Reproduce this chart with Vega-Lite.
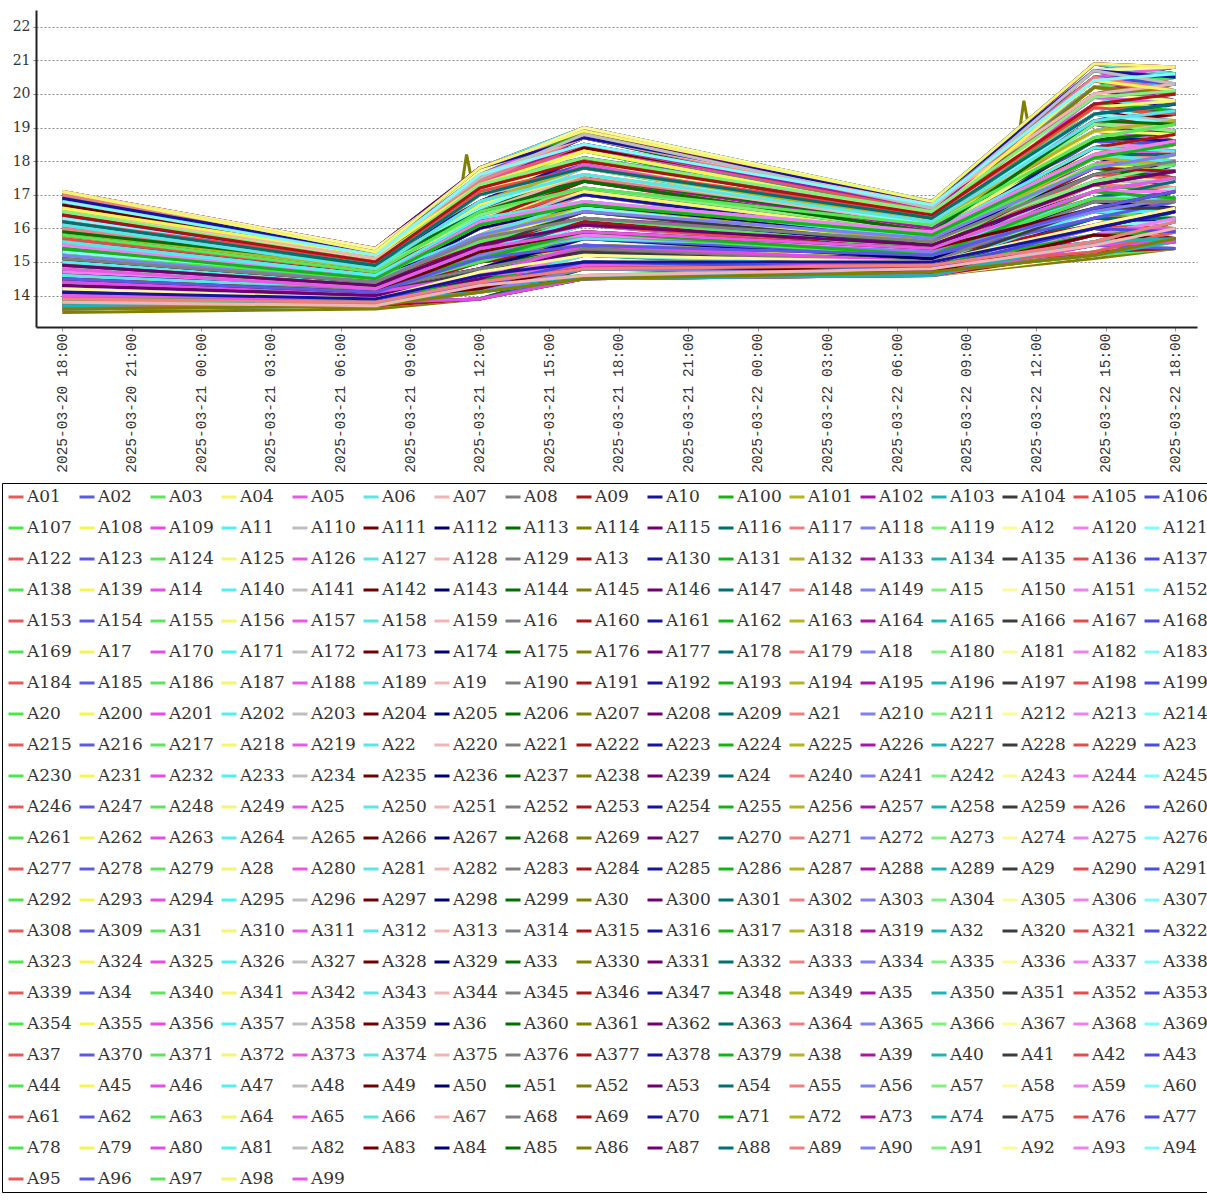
{"$schema":"https://vega.github.io/schema/vega-lite/v6.json","width":1161,"height":317,"padding":{"left":1,"top":10,"right":2,"bottom":2},"background":"white",
"datasets":{"times":[{"k":0,"t":1742493600000},{"k":1,"t":1742542200000},{"k":2,"t":1742558400000},{"k":3,"t":1742574600000},{"k":4,"t":1742628600000},{"k":5,"t":1742653800000},{"k":6,"t":1742666400000},{"k":7,"t":1742555400000},{"k":8,"t":1742556360000},{"k":9,"t":1742557320000},{"k":10,"t":1742641920000},{"k":11,"t":1742642880000},{"k":12,"t":1742643840000}]},
"data":{"values":[
{"s":"A01","k":0,"v":13.6},{"s":"A01","k":1,"v":13.7},{"s":"A01","k":2,"v":13.9},{"s":"A01","k":3,"v":14.5},{"s":"A01","k":4,"v":14.6},{"s":"A01","k":5,"v":15.2},{"s":"A01","k":6,"v":15.4},
{"s":"A02","k":0,"v":15.1},{"s":"A02","k":1,"v":14.3},{"s":"A02","k":2,"v":15.6},{"s":"A02","k":3,"v":16.2},{"s":"A02","k":4,"v":15.3},{"s":"A02","k":5,"v":17.6},{"s":"A02","k":6,"v":17.4},
{"s":"A03","k":0,"v":16.0},{"s":"A03","k":1,"v":15.0},{"s":"A03","k":2,"v":16.8},{"s":"A03","k":3,"v":18.1},{"s":"A03","k":4,"v":16.4},{"s":"A03","k":5,"v":19.1},{"s":"A03","k":6,"v":19.5},
{"s":"A04","k":0,"v":13.9},{"s":"A04","k":1,"v":13.9},{"s":"A04","k":2,"v":14.1},{"s":"A04","k":3,"v":14.8},{"s":"A04","k":4,"v":14.8},{"s":"A04","k":5,"v":15.8},{"s":"A04","k":6,"v":15.6},
{"s":"A05","k":0,"v":15.3},{"s":"A05","k":1,"v":14.4},{"s":"A05","k":2,"v":15.8},{"s":"A05","k":3,"v":16.8},{"s":"A05","k":4,"v":15.5},{"s":"A05","k":5,"v":17.6},{"s":"A05","k":6,"v":18.2},
{"s":"A06","k":0,"v":16.5},{"s":"A06","k":1,"v":15.1},{"s":"A06","k":2,"v":17.2},{"s":"A06","k":3,"v":18.3},{"s":"A06","k":4,"v":16.4},{"s":"A06","k":5,"v":19.9},{"s":"A06","k":6,"v":19.8},
{"s":"A07","k":0,"v":14.4},{"s":"A07","k":1,"v":13.9},{"s":"A07","k":2,"v":14.8},{"s":"A07","k":3,"v":15.3},{"s":"A07","k":4,"v":14.9},{"s":"A07","k":5,"v":16.5},{"s":"A07","k":6,"v":16.3},
{"s":"A08","k":0,"v":15.3},{"s":"A08","k":1,"v":14.7},{"s":"A08","k":2,"v":16.1},{"s":"A08","k":3,"v":17.2},{"s":"A08","k":4,"v":15.9},{"s":"A08","k":5,"v":17.9},{"s":"A08","k":6,"v":18.5},
{"s":"A09","k":0,"v":16.8},{"s":"A09","k":1,"v":15.3},{"s":"A09","k":2,"v":17.3},{"s":"A09","k":3,"v":18.5},{"s":"A09","k":4,"v":16.6},{"s":"A09","k":5,"v":20.5},{"s":"A09","k":6,"v":20.0},
{"s":"A10","k":0,"v":14.6},{"s":"A10","k":1,"v":14.0},{"s":"A10","k":2,"v":15.1},{"s":"A10","k":3,"v":15.9},{"s":"A10","k":4,"v":15.1},{"s":"A10","k":5,"v":16.5},{"s":"A10","k":6,"v":17.1},
{"s":"A11","k":0,"v":15.8},{"s":"A11","k":1,"v":14.7},{"s":"A11","k":2,"v":16.4},{"s":"A11","k":3,"v":17.4},{"s":"A11","k":4,"v":16.0},{"s":"A11","k":5,"v":18.7},{"s":"A11","k":6,"v":18.8},
{"s":"A12","k":0,"v":17.1},{"s":"A12","k":1,"v":15.3},{"s":"A12","k":2,"v":17.8},{"s":"A12","k":3,"v":19.0},{"s":"A12","k":4,"v":16.7},{"s":"A12","k":5,"v":20.9},{"s":"A12","k":6,"v":20.8},
{"s":"A13","k":0,"v":14.6},{"s":"A13","k":1,"v":14.4},{"s":"A13","k":2,"v":15.3},{"s":"A13","k":3,"v":16.3},{"s":"A13","k":4,"v":15.5},{"s":"A13","k":5,"v":16.8},{"s":"A13","k":6,"v":17.4},
{"s":"A14","k":0,"v":16.1},{"s":"A14","k":1,"v":14.9},{"s":"A14","k":2,"v":16.5},{"s":"A14","k":3,"v":17.6},{"s":"A14","k":4,"v":16.2},{"s":"A14","k":5,"v":19.4},{"s":"A14","k":6,"v":18.9},
{"s":"A15","k":0,"v":13.9},{"s":"A15","k":1,"v":13.7},{"s":"A15","k":2,"v":14.3},{"s":"A15","k":3,"v":15.0},{"s":"A15","k":4,"v":14.7},{"s":"A15","k":5,"v":15.3},{"s":"A15","k":6,"v":16.0},
{"s":"A16","k":0,"v":15.1},{"s":"A16","k":1,"v":14.4},{"s":"A16","k":2,"v":15.6},{"s":"A16","k":3,"v":16.5},{"s":"A16","k":4,"v":15.5},{"s":"A16","k":5,"v":17.6},{"s":"A16","k":6,"v":17.7},
{"s":"A17","k":0,"v":16.6},{"s":"A17","k":1,"v":15.0},{"s":"A17","k":2,"v":17.3},{"s":"A17","k":3,"v":18.1},{"s":"A17","k":4,"v":16.2},{"s":"A17","k":5,"v":20.0},{"s":"A17","k":6,"v":19.7},
{"s":"A18","k":0,"v":13.9},{"s":"A18","k":1,"v":14.0},{"s":"A18","k":2,"v":14.5},{"s":"A18","k":3,"v":15.4},{"s":"A18","k":4,"v":15.0},{"s":"A18","k":5,"v":15.6},{"s":"A18","k":6,"v":16.3},
{"s":"A19","k":0,"v":15.4},{"s":"A19","k":1,"v":14.6},{"s":"A19","k":2,"v":15.7},{"s":"A19","k":3,"v":16.7},{"s":"A19","k":4,"v":15.7},{"s":"A19","k":5,"v":18.2},{"s":"A19","k":6,"v":17.9},
{"s":"A20","k":0,"v":16.8},{"s":"A20","k":1,"v":15.1},{"s":"A20","k":2,"v":17.5},{"s":"A20","k":3,"v":18.8},{"s":"A20","k":4,"v":16.5},{"s":"A20","k":5,"v":20.0},{"s":"A20","k":6,"v":20.5},
{"s":"A21","k":0,"v":14.4},{"s":"A21","k":1,"v":14.1},{"s":"A21","k":2,"v":14.8},{"s":"A21","k":3,"v":15.5},{"s":"A21","k":4,"v":15.1},{"s":"A21","k":5,"v":16.5},{"s":"A21","k":6,"v":16.6},
{"s":"A22","k":0,"v":15.9},{"s":"A22","k":1,"v":14.6},{"s":"A22","k":2,"v":16.5},{"s":"A22","k":3,"v":17.2},{"s":"A22","k":4,"v":15.8},{"s":"A22","k":5,"v":18.9},{"s":"A22","k":6,"v":18.6},
{"s":"A23","k":0,"v":16.8},{"s":"A23","k":1,"v":15.4},{"s":"A23","k":2,"v":17.7},{"s":"A23","k":3,"v":19.0},{"s":"A23","k":4,"v":16.8},{"s":"A23","k":5,"v":20.4},{"s":"A23","k":6,"v":20.8},
{"s":"A24","k":0,"v":14.7},{"s":"A24","k":1,"v":14.3},{"s":"A24","k":2,"v":15.0},{"s":"A24","k":3,"v":15.8},{"s":"A24","k":4,"v":15.3},{"s":"A24","k":5,"v":17.1},{"s":"A24","k":6,"v":16.8},
{"s":"A25","k":0,"v":16.1},{"s":"A25","k":1,"v":14.7},{"s":"A25","k":2,"v":16.7},{"s":"A25","k":3,"v":17.9},{"s":"A25","k":4,"v":16.1},{"s":"A25","k":5,"v":18.9},{"s":"A25","k":6,"v":19.4},
{"s":"A26","k":0,"v":13.7},{"s":"A26","k":1,"v":13.7},{"s":"A26","k":2,"v":14.1},{"s":"A26","k":3,"v":14.6},{"s":"A26","k":4,"v":14.7},{"s":"A26","k":5,"v":15.3},{"s":"A26","k":6,"v":15.6},
{"s":"A27","k":0,"v":15.2},{"s":"A27","k":1,"v":14.3},{"s":"A27","k":2,"v":15.7},{"s":"A27","k":3,"v":16.3},{"s":"A27","k":4,"v":15.4},{"s":"A27","k":5,"v":17.8},{"s":"A27","k":6,"v":17.5},
{"s":"A28","k":0,"v":16.1},{"s":"A28","k":1,"v":15.1},{"s":"A28","k":2,"v":17.0},{"s":"A28","k":3,"v":18.3},{"s":"A28","k":4,"v":16.4},{"s":"A28","k":5,"v":19.2},{"s":"A28","k":6,"v":19.7},
{"s":"A29","k":0,"v":14.0},{"s":"A29","k":1,"v":13.9},{"s":"A29","k":2,"v":14.2},{"s":"A29","k":3,"v":14.9},{"s":"A29","k":4,"v":14.9},{"s":"A29","k":5,"v":16.0},{"s":"A29","k":6,"v":15.7},
{"s":"A30","k":0,"v":15.4},{"s":"A30","k":1,"v":14.4},{"s":"A30","k":2,"v":16.0},{"s":"A30","k":3,"v":17.0},{"s":"A30","k":4,"v":15.6},{"s":"A30","k":5,"v":17.8},{"s":"A30","k":6,"v":18.3},
{"s":"A31","k":0,"v":16.6},{"s":"A31","k":1,"v":15.1},{"s":"A31","k":2,"v":17.3},{"s":"A31","k":3,"v":18.4},{"s":"A31","k":4,"v":16.5},{"s":"A31","k":5,"v":20.0},{"s":"A31","k":6,"v":20.0},
{"s":"A32","k":0,"v":14.5},{"s":"A32","k":1,"v":14.0},{"s":"A32","k":2,"v":15.0},{"s":"A32","k":3,"v":15.4},{"s":"A32","k":4,"v":14.9},{"s":"A32","k":5,"v":16.6},{"s":"A32","k":6,"v":16.5},
{"s":"A33","k":0,"v":15.4},{"s":"A33","k":1,"v":14.7},{"s":"A33","k":2,"v":16.2},{"s":"A33","k":3,"v":17.4},{"s":"A33","k":4,"v":16.0},{"s":"A33","k":5,"v":18.1},{"s":"A33","k":6,"v":18.6},
{"s":"A34","k":0,"v":16.9},{"s":"A34","k":1,"v":15.3},{"s":"A34","k":2,"v":17.4},{"s":"A34","k":3,"v":18.7},{"s":"A34","k":4,"v":16.7},{"s":"A34","k":5,"v":20.7},{"s":"A34","k":6,"v":20.1},
{"s":"A35","k":0,"v":14.7},{"s":"A35","k":1,"v":14.1},{"s":"A35","k":2,"v":15.2},{"s":"A35","k":3,"v":16.1},{"s":"A35","k":4,"v":15.2},{"s":"A35","k":5,"v":16.6},{"s":"A35","k":6,"v":17.2},
{"s":"A36","k":0,"v":15.9},{"s":"A36","k":1,"v":14.8},{"s":"A36","k":2,"v":16.5},{"s":"A36","k":3,"v":17.5},{"s":"A36","k":4,"v":16.1},{"s":"A36","k":5,"v":18.9},{"s":"A36","k":6,"v":18.9},
{"s":"A37","k":0,"v":13.8},{"s":"A37","k":1,"v":13.7},{"s":"A37","k":2,"v":14.2},{"s":"A37","k":3,"v":14.5},{"s":"A37","k":4,"v":14.6},{"s":"A37","k":5,"v":15.5},{"s":"A37","k":6,"v":15.4},
{"s":"A38","k":0,"v":14.7},{"s":"A38","k":1,"v":14.4},{"s":"A38","k":2,"v":15.4},{"s":"A38","k":3,"v":16.5},{"s":"A38","k":4,"v":15.5},{"s":"A38","k":5,"v":16.9},{"s":"A38","k":6,"v":17.5},
{"s":"A39","k":0,"v":16.2},{"s":"A39","k":1,"v":15.0},{"s":"A39","k":2,"v":16.6},{"s":"A39","k":3,"v":17.8},{"s":"A39","k":4,"v":16.2},{"s":"A39","k":5,"v":19.6},{"s":"A39","k":6,"v":19.1},
{"s":"A40","k":0,"v":14.0},{"s":"A40","k":1,"v":13.7},{"s":"A40","k":2,"v":14.4},{"s":"A40","k":3,"v":15.2},{"s":"A40","k":4,"v":14.7},{"s":"A40","k":5,"v":15.5},{"s":"A40","k":6,"v":16.2},
{"s":"A41","k":0,"v":15.2},{"s":"A41","k":1,"v":14.5},{"s":"A41","k":2,"v":15.7},{"s":"A41","k":3,"v":16.6},{"s":"A41","k":4,"v":15.6},{"s":"A41","k":5,"v":17.8},{"s":"A41","k":6,"v":17.9},
{"s":"A42","k":0,"v":16.7},{"s":"A42","k":1,"v":15.0},{"s":"A42","k":2,"v":17.4},{"s":"A42","k":3,"v":18.3},{"s":"A42","k":4,"v":16.3},{"s":"A42","k":5,"v":20.2},{"s":"A42","k":6,"v":19.8},
{"s":"A43","k":0,"v":14.0},{"s":"A43","k":1,"v":14.1},{"s":"A43","k":2,"v":14.6},{"s":"A43","k":3,"v":15.5},{"s":"A43","k":4,"v":15.1},{"s":"A43","k":5,"v":15.8},{"s":"A43","k":6,"v":16.5},
{"s":"A44","k":0,"v":15.5},{"s":"A44","k":1,"v":14.6},{"s":"A44","k":2,"v":15.8},{"s":"A44","k":3,"v":16.8},{"s":"A44","k":4,"v":15.8},{"s":"A44","k":5,"v":18.4},{"s":"A44","k":6,"v":18.0},
{"s":"A45","k":0,"v":16.9},{"s":"A45","k":1,"v":15.1},{"s":"A45","k":2,"v":17.6},{"s":"A45","k":3,"v":18.9},{"s":"A45","k":4,"v":16.6},{"s":"A45","k":5,"v":20.2},{"s":"A45","k":6,"v":20.6},
{"s":"A46","k":0,"v":14.5},{"s":"A46","k":1,"v":14.1},{"s":"A46","k":2,"v":15.0},{"s":"A46","k":3,"v":15.7},{"s":"A46","k":4,"v":15.2},{"s":"A46","k":5,"v":16.6},{"s":"A46","k":6,"v":16.8},
{"s":"A47","k":0,"v":16.0},{"s":"A47","k":1,"v":14.7},{"s":"A47","k":2,"v":16.6},{"s":"A47","k":3,"v":17.4},{"s":"A47","k":4,"v":15.9},{"s":"A47","k":5,"v":19.1},{"s":"A47","k":6,"v":18.8},
{"s":"A48","k":0,"v":16.9},{"s":"A48","k":1,"v":15.4},{"s":"A48","k":2,"v":17.8},{"s":"A48","k":3,"v":19.0},{"s":"A48","k":4,"v":16.8},{"s":"A48","k":5,"v":20.5},{"s":"A48","k":6,"v":20.8},
{"s":"A49","k":0,"v":14.8},{"s":"A49","k":1,"v":14.3},{"s":"A49","k":2,"v":15.1},{"s":"A49","k":3,"v":15.9},{"s":"A49","k":4,"v":15.4},{"s":"A49","k":5,"v":17.3},{"s":"A49","k":6,"v":16.9},
{"s":"A50","k":0,"v":16.2},{"s":"A50","k":1,"v":14.8},{"s":"A50","k":2,"v":16.8},{"s":"A50","k":3,"v":18.0},{"s":"A50","k":4,"v":16.1},{"s":"A50","k":5,"v":19.1},{"s":"A50","k":6,"v":19.5},
{"s":"A51","k":0,"v":13.8},{"s":"A51","k":1,"v":13.8},{"s":"A51","k":2,"v":14.2},{"s":"A51","k":3,"v":14.8},{"s":"A51","k":4,"v":14.7},{"s":"A51","k":5,"v":15.5},{"s":"A51","k":6,"v":15.7},
{"s":"A52","k":0,"v":15.3},{"s":"A52","k":1,"v":14.4},{"s":"A52","k":2,"v":15.8},{"s":"A52","k":3,"v":16.5},{"s":"A52","k":4,"v":15.4},{"s":"A52","k":5,"v":17.9},{"s":"A52","k":6,"v":17.7},
{"s":"A53","k":0,"v":16.2},{"s":"A53","k":1,"v":15.1},{"s":"A53","k":2,"v":17.1},{"s":"A53","k":3,"v":18.4},{"s":"A53","k":4,"v":16.5},{"s":"A53","k":5,"v":19.4},{"s":"A53","k":6,"v":19.8},
{"s":"A54","k":0,"v":14.1},{"s":"A54","k":1,"v":14.0},{"s":"A54","k":2,"v":14.3},{"s":"A54","k":3,"v":15.0},{"s":"A54","k":4,"v":14.9},{"s":"A54","k":5,"v":16.1},{"s":"A54","k":6,"v":15.9},
{"s":"A55","k":0,"v":15.5},{"s":"A55","k":1,"v":14.5},{"s":"A55","k":2,"v":16.1},{"s":"A55","k":3,"v":17.1},{"s":"A55","k":4,"v":15.7},{"s":"A55","k":5,"v":17.9},{"s":"A55","k":6,"v":18.5},
{"s":"A56","k":0,"v":16.7},{"s":"A56","k":1,"v":15.2},{"s":"A56","k":2,"v":17.4},{"s":"A56","k":3,"v":18.5},{"s":"A56","k":4,"v":16.6},{"s":"A56","k":5,"v":20.2},{"s":"A56","k":6,"v":20.1},
{"s":"A57","k":0,"v":14.6},{"s":"A57","k":1,"v":14.0},{"s":"A57","k":2,"v":15.1},{"s":"A57","k":3,"v":15.5},{"s":"A57","k":4,"v":15.0},{"s":"A57","k":5,"v":16.8},{"s":"A57","k":6,"v":16.6},
{"s":"A58","k":0,"v":15.5},{"s":"A58","k":1,"v":14.8},{"s":"A58","k":2,"v":16.3},{"s":"A58","k":3,"v":17.5},{"s":"A58","k":4,"v":16.1},{"s":"A58","k":5,"v":18.2},{"s":"A58","k":6,"v":18.8},
{"s":"A59","k":0,"v":17.0},{"s":"A59","k":1,"v":15.4},{"s":"A59","k":2,"v":17.5},{"s":"A59","k":3,"v":18.8},{"s":"A59","k":4,"v":16.7},{"s":"A59","k":5,"v":20.9},{"s":"A59","k":6,"v":20.3},
{"s":"A60","k":0,"v":14.8},{"s":"A60","k":1,"v":14.1},{"s":"A60","k":2,"v":15.3},{"s":"A60","k":3,"v":16.2},{"s":"A60","k":4,"v":15.2},{"s":"A60","k":5,"v":16.8},{"s":"A60","k":6,"v":17.4},
{"s":"A61","k":0,"v":16.0},{"s":"A61","k":1,"v":14.8},{"s":"A61","k":2,"v":16.6},{"s":"A61","k":3,"v":17.6},{"s":"A61","k":4,"v":16.1},{"s":"A61","k":5,"v":19.1},{"s":"A61","k":6,"v":19.1},
{"s":"A62","k":0,"v":13.9},{"s":"A62","k":1,"v":13.7},{"s":"A62","k":2,"v":14.3},{"s":"A62","k":3,"v":14.6},{"s":"A62","k":4,"v":14.6},{"s":"A62","k":5,"v":15.6},{"s":"A62","k":6,"v":15.6},
{"s":"A63","k":0,"v":14.8},{"s":"A63","k":1,"v":14.5},{"s":"A63","k":2,"v":15.5},{"s":"A63","k":3,"v":16.6},{"s":"A63","k":4,"v":15.6},{"s":"A63","k":5,"v":17.1},{"s":"A63","k":6,"v":17.7},
{"s":"A64","k":0,"v":16.3},{"s":"A64","k":1,"v":15.0},{"s":"A64","k":2,"v":16.7},{"s":"A64","k":3,"v":17.9},{"s":"A64","k":4,"v":16.3},{"s":"A64","k":5,"v":19.7},{"s":"A64","k":6,"v":19.2},
{"s":"A65","k":0,"v":14.1},{"s":"A65","k":1,"v":13.8},{"s":"A65","k":2,"v":14.5},{"s":"A65","k":3,"v":15.3},{"s":"A65","k":4,"v":14.8},{"s":"A65","k":5,"v":15.6},{"s":"A65","k":6,"v":16.3},
{"s":"A66","k":0,"v":15.3},{"s":"A66","k":1,"v":14.5},{"s":"A66","k":2,"v":15.8},{"s":"A66","k":3,"v":16.7},{"s":"A66","k":4,"v":15.7},{"s":"A66","k":5,"v":17.9},{"s":"A66","k":6,"v":18.0},
{"s":"A67","k":0,"v":16.8},{"s":"A67","k":1,"v":15.1},{"s":"A67","k":2,"v":17.5},{"s":"A67","k":3,"v":18.4},{"s":"A67","k":4,"v":16.4},{"s":"A67","k":5,"v":20.4},{"s":"A67","k":6,"v":20.0},
{"s":"A68","k":0,"v":14.1},{"s":"A68","k":1,"v":14.1},{"s":"A68","k":2,"v":14.7},{"s":"A68","k":3,"v":15.7},{"s":"A68","k":4,"v":15.2},{"s":"A68","k":5,"v":16.0},{"s":"A68","k":6,"v":16.6},
{"s":"A69","k":0,"v":15.6},{"s":"A69","k":1,"v":14.7},{"s":"A69","k":2,"v":16.0},{"s":"A69","k":3,"v":17.0},{"s":"A69","k":4,"v":15.9},{"s":"A69","k":5,"v":18.6},{"s":"A69","k":6,"v":18.2},
{"s":"A70","k":0,"v":17.0},{"s":"A70","k":1,"v":15.2},{"s":"A70","k":2,"v":17.7},{"s":"A70","k":3,"v":19.0},{"s":"A70","k":4,"v":16.6},{"s":"A70","k":5,"v":20.4},{"s":"A70","k":6,"v":20.8},
{"s":"A71","k":0,"v":14.6},{"s":"A71","k":1,"v":14.2},{"s":"A71","k":2,"v":15.1},{"s":"A71","k":3,"v":15.8},{"s":"A71","k":4,"v":15.2},{"s":"A71","k":5,"v":16.8},{"s":"A71","k":6,"v":16.9},
{"s":"A72","k":0,"v":16.1},{"s":"A72","k":1,"v":14.7},{"s":"A72","k":2,"v":16.7},{"s":"A72","k":3,"v":17.5},{"s":"A72","k":4,"v":15.9},{"s":"A72","k":5,"v":19.2},{"s":"A72","k":6,"v":18.9},
{"s":"A73","k":0,"v":13.6},{"s":"A73","k":1,"v":13.8},{"s":"A73","k":2,"v":13.9},{"s":"A73","k":3,"v":14.8},{"s":"A73","k":4,"v":14.7},{"s":"A73","k":5,"v":15.2},{"s":"A73","k":6,"v":15.6},
{"s":"A74","k":0,"v":14.9},{"s":"A74","k":1,"v":14.4},{"s":"A74","k":2,"v":15.2},{"s":"A74","k":3,"v":16.1},{"s":"A74","k":4,"v":15.4},{"s":"A74","k":5,"v":17.4},{"s":"A74","k":6,"v":17.1},
{"s":"A75","k":0,"v":16.3},{"s":"A75","k":1,"v":14.8},{"s":"A75","k":2,"v":17.0},{"s":"A75","k":3,"v":18.1},{"s":"A75","k":4,"v":16.2},{"s":"A75","k":5,"v":19.2},{"s":"A75","k":6,"v":19.7},
{"s":"A76","k":0,"v":13.9},{"s":"A76","k":1,"v":13.8},{"s":"A76","k":2,"v":14.3},{"s":"A76","k":3,"v":14.9},{"s":"A76","k":4,"v":14.8},{"s":"A76","k":5,"v":15.6},{"s":"A76","k":6,"v":15.9},
{"s":"A77","k":0,"v":15.4},{"s":"A77","k":1,"v":14.4},{"s":"A77","k":2,"v":16.0},{"s":"A77","k":3,"v":16.6},{"s":"A77","k":4,"v":15.5},{"s":"A77","k":5,"v":18.1},{"s":"A77","k":6,"v":17.9},
{"s":"A78","k":0,"v":16.3},{"s":"A78","k":1,"v":15.2},{"s":"A78","k":2,"v":17.2},{"s":"A78","k":3,"v":18.5},{"s":"A78","k":4,"v":16.6},{"s":"A78","k":5,"v":19.6},{"s":"A78","k":6,"v":20.0},
{"s":"A79","k":0,"v":14.2},{"s":"A79","k":1,"v":14.0},{"s":"A79","k":2,"v":14.4},{"s":"A79","k":3,"v":15.2},{"s":"A79","k":4,"v":15.0},{"s":"A79","k":5,"v":16.3},{"s":"A79","k":6,"v":16.0},
{"s":"A80","k":0,"v":15.6},{"s":"A80","k":1,"v":14.5},{"s":"A80","k":2,"v":16.2},{"s":"A80","k":3,"v":17.2},{"s":"A80","k":4,"v":15.7},{"s":"A80","k":5,"v":18.1},{"s":"A80","k":6,"v":18.6},
{"s":"A81","k":0,"v":16.8},{"s":"A81","k":1,"v":15.2},{"s":"A81","k":2,"v":17.5},{"s":"A81","k":3,"v":18.7},{"s":"A81","k":4,"v":16.6},{"s":"A81","k":5,"v":20.4},{"s":"A81","k":6,"v":20.3},
{"s":"A82","k":0,"v":14.7},{"s":"A82","k":1,"v":14.1},{"s":"A82","k":2,"v":15.2},{"s":"A82","k":3,"v":15.7},{"s":"A82","k":4,"v":15.0},{"s":"A82","k":5,"v":16.9},{"s":"A82","k":6,"v":16.8},
{"s":"A83","k":0,"v":15.6},{"s":"A83","k":1,"v":14.8},{"s":"A83","k":2,"v":16.4},{"s":"A83","k":3,"v":17.6},{"s":"A83","k":4,"v":16.1},{"s":"A83","k":5,"v":18.4},{"s":"A83","k":6,"v":18.9},
{"s":"A84","k":0,"v":17.1},{"s":"A84","k":1,"v":15.4},{"s":"A84","k":2,"v":17.6},{"s":"A84","k":3,"v":18.9},{"s":"A84","k":4,"v":16.8},{"s":"A84","k":5,"v":20.9},{"s":"A84","k":6,"v":20.5},
{"s":"A85","k":0,"v":14.9},{"s":"A85","k":1,"v":14.2},{"s":"A85","k":2,"v":15.4},{"s":"A85","k":3,"v":16.3},{"s":"A85","k":4,"v":15.3},{"s":"A85","k":5,"v":16.9},{"s":"A85","k":6,"v":17.5},
{"s":"A86","k":0,"v":16.1},{"s":"A86","k":1,"v":14.9},{"s":"A86","k":2,"v":16.7},{"s":"A86","k":3,"v":17.8},{"s":"A86","k":4,"v":16.2},{"s":"A86","k":5,"v":19.2},{"s":"A86","k":6,"v":19.2},
{"s":"A87","k":0,"v":14.0},{"s":"A87","k":1,"v":13.7},{"s":"A87","k":2,"v":14.4},{"s":"A87","k":3,"v":14.8},{"s":"A87","k":4,"v":14.6},{"s":"A87","k":5,"v":15.8},{"s":"A87","k":6,"v":15.7},
{"s":"A88","k":0,"v":14.9},{"s":"A88","k":1,"v":14.5},{"s":"A88","k":2,"v":15.6},{"s":"A88","k":3,"v":16.7},{"s":"A88","k":4,"v":15.7},{"s":"A88","k":5,"v":17.3},{"s":"A88","k":6,"v":17.9},
{"s":"A89","k":0,"v":16.4},{"s":"A89","k":1,"v":15.1},{"s":"A89","k":2,"v":16.8},{"s":"A89","k":3,"v":18.0},{"s":"A89","k":4,"v":16.4},{"s":"A89","k":5,"v":19.9},{"s":"A89","k":6,"v":19.4},
{"s":"A90","k":0,"v":14.2},{"s":"A90","k":1,"v":13.8},{"s":"A90","k":2,"v":14.6},{"s":"A90","k":3,"v":15.4},{"s":"A90","k":4,"v":14.9},{"s":"A90","k":5,"v":15.8},{"s":"A90","k":6,"v":16.5},
{"s":"A91","k":0,"v":15.4},{"s":"A91","k":1,"v":14.5},{"s":"A91","k":2,"v":16.0},{"s":"A91","k":3,"v":16.8},{"s":"A91","k":4,"v":15.7},{"s":"A91","k":5,"v":18.1},{"s":"A91","k":6,"v":18.2},
{"s":"A92","k":0,"v":16.9},{"s":"A92","k":1,"v":15.1},{"s":"A92","k":2,"v":17.6},{"s":"A92","k":3,"v":18.5},{"s":"A92","k":4,"v":16.4},{"s":"A92","k":5,"v":20.5},{"s":"A92","k":6,"v":20.1},
{"s":"A93","k":0,"v":14.2},{"s":"A93","k":1,"v":14.2},{"s":"A93","k":2,"v":14.8},{"s":"A93","k":3,"v":15.8},{"s":"A93","k":4,"v":15.2},{"s":"A93","k":5,"v":16.1},{"s":"A93","k":6,"v":16.8},
{"s":"A94","k":0,"v":15.7},{"s":"A94","k":1,"v":14.7},{"s":"A94","k":2,"v":16.1},{"s":"A94","k":3,"v":17.1},{"s":"A94","k":4,"v":15.9},{"s":"A94","k":5,"v":18.7},{"s":"A94","k":6,"v":18.3},
{"s":"A95","k":0,"v":17.1},{"s":"A95","k":1,"v":15.2},{"s":"A95","k":2,"v":17.8},{"s":"A95","k":3,"v":19.0},{"s":"A95","k":4,"v":16.7},{"s":"A95","k":5,"v":20.5},{"s":"A95","k":6,"v":20.8},
{"s":"A96","k":0,"v":14.7},{"s":"A96","k":1,"v":14.2},{"s":"A96","k":2,"v":15.2},{"s":"A96","k":3,"v":15.9},{"s":"A96","k":4,"v":15.3},{"s":"A96","k":5,"v":16.9},{"s":"A96","k":6,"v":17.1},
{"s":"A97","k":0,"v":16.2},{"s":"A97","k":1,"v":14.8},{"s":"A97","k":2,"v":16.8},{"s":"A97","k":3,"v":17.6},{"s":"A97","k":4,"v":16.0},{"s":"A97","k":5,"v":19.4},{"s":"A97","k":6,"v":19.1},
{"s":"A98","k":0,"v":13.6},{"s":"A98","k":1,"v":13.8},{"s":"A98","k":2,"v":14.1},{"s":"A98","k":3,"v":14.9},{"s":"A98","k":4,"v":14.8},{"s":"A98","k":5,"v":15.2},{"s":"A98","k":6,"v":15.7},
{"s":"A99","k":0,"v":15.0},{"s":"A99","k":1,"v":14.4},{"s":"A99","k":2,"v":15.3},{"s":"A99","k":3,"v":16.2},{"s":"A99","k":4,"v":15.5},{"s":"A99","k":5,"v":17.6},{"s":"A99","k":6,"v":17.2},
{"s":"A100","k":0,"v":16.4},{"s":"A100","k":1,"v":14.9},{"s":"A100","k":2,"v":17.1},{"s":"A100","k":3,"v":18.3},{"s":"A100","k":4,"v":16.2},{"s":"A100","k":5,"v":19.4},{"s":"A100","k":6,"v":19.8},
{"s":"A101","k":0,"v":14.0},{"s":"A101","k":1,"v":13.9},{"s":"A101","k":2,"v":14.4},{"s":"A101","k":3,"v":15.0},{"s":"A101","k":4,"v":14.9},{"s":"A101","k":5,"v":15.8},{"s":"A101","k":6,"v":16.0},
{"s":"A102","k":0,"v":15.5},{"s":"A102","k":1,"v":14.5},{"s":"A102","k":2,"v":16.1},{"s":"A102","k":3,"v":16.7},{"s":"A102","k":4,"v":15.5},{"s":"A102","k":5,"v":18.2},{"s":"A102","k":6,"v":18.0},
{"s":"A103","k":0,"v":16.4},{"s":"A103","k":1,"v":15.2},{"s":"A103","k":2,"v":17.3},{"s":"A103","k":3,"v":18.7},{"s":"A103","k":4,"v":16.6},{"s":"A103","k":5,"v":19.7},{"s":"A103","k":6,"v":20.1},
{"s":"A104","k":0,"v":14.3},{"s":"A104","k":1,"v":14.1},{"s":"A104","k":2,"v":14.5},{"s":"A104","k":3,"v":15.3},{"s":"A104","k":4,"v":15.0},{"s":"A104","k":5,"v":16.5},{"s":"A104","k":6,"v":16.2},
{"s":"A105","k":0,"v":15.7},{"s":"A105","k":1,"v":14.5},{"s":"A105","k":2,"v":16.3},{"s":"A105","k":3,"v":17.4},{"s":"A105","k":4,"v":15.8},{"s":"A105","k":5,"v":18.2},{"s":"A105","k":6,"v":18.8},
{"s":"A106","k":0,"v":16.9},{"s":"A106","k":1,"v":15.3},{"s":"A106","k":2,"v":17.6},{"s":"A106","k":3,"v":18.8},{"s":"A106","k":4,"v":16.7},{"s":"A106","k":5,"v":20.5},{"s":"A106","k":6,"v":20.5},
{"s":"A107","k":0,"v":14.8},{"s":"A107","k":1,"v":14.1},{"s":"A107","k":2,"v":15.3},{"s":"A107","k":3,"v":15.8},{"s":"A107","k":4,"v":15.1},{"s":"A107","k":5,"v":17.1},{"s":"A107","k":6,"v":16.9},
{"s":"A108","k":0,"v":15.7},{"s":"A108","k":1,"v":14.9},{"s":"A108","k":2,"v":16.5},{"s":"A108","k":3,"v":17.8},{"s":"A108","k":4,"v":16.2},{"s":"A108","k":5,"v":18.6},{"s":"A108","k":6,"v":19.1},
{"s":"A109","k":0,"v":13.6},{"s":"A109","k":1,"v":13.7},{"s":"A109","k":2,"v":13.9},{"s":"A109","k":3,"v":14.5},{"s":"A109","k":4,"v":14.6},{"s":"A109","k":5,"v":15.3},{"s":"A109","k":6,"v":15.4},
{"s":"A110","k":0,"v":15.0},{"s":"A110","k":1,"v":14.2},{"s":"A110","k":2,"v":15.5},{"s":"A110","k":3,"v":16.5},{"s":"A110","k":4,"v":15.4},{"s":"A110","k":5,"v":17.1},{"s":"A110","k":6,"v":17.7},
{"s":"A111","k":0,"v":16.2},{"s":"A111","k":1,"v":14.9},{"s":"A111","k":2,"v":16.8},{"s":"A111","k":3,"v":17.9},{"s":"A111","k":4,"v":16.2},{"s":"A111","k":5,"v":19.4},{"s":"A111","k":6,"v":19.4},
{"s":"A112","k":0,"v":14.1},{"s":"A112","k":1,"v":13.8},{"s":"A112","k":2,"v":14.5},{"s":"A112","k":3,"v":14.9},{"s":"A112","k":4,"v":14.7},{"s":"A112","k":5,"v":16.0},{"s":"A112","k":6,"v":15.9},
{"s":"A113","k":0,"v":15.0},{"s":"A113","k":1,"v":14.5},{"s":"A113","k":2,"v":15.7},{"s":"A113","k":3,"v":16.8},{"s":"A113","k":4,"v":15.7},{"s":"A113","k":5,"v":17.4},{"s":"A113","k":6,"v":18.0},
{"s":"A114","k":0,"v":16.7},{"s":"A114","k":1,"v":15.2},{"s":"A114","k":7,"v":17.0},{"s":"A114","k":8,"v":18.2},{"s":"A114","k":9,"v":17.3},{"s":"A114","k":2,"v":17.4},{"s":"A114","k":3,"v":18.5},{"s":"A114","k":4,"v":16.6},{"s":"A114","k":10,"v":18.5},{"s":"A114","k":11,"v":19.8},{"s":"A114","k":12,"v":18.8},{"s":"A114","k":5,"v":20.2},{"s":"A114","k":6,"v":20.1},
{"s":"A115","k":0,"v":14.3},{"s":"A115","k":1,"v":13.9},{"s":"A115","k":2,"v":14.7},{"s":"A115","k":3,"v":15.5},{"s":"A115","k":4,"v":14.9},{"s":"A115","k":5,"v":16.0},{"s":"A115","k":6,"v":16.6},
{"s":"A116","k":0,"v":15.5},{"s":"A116","k":1,"v":14.6},{"s":"A116","k":2,"v":16.1},{"s":"A116","k":3,"v":17.0},{"s":"A116","k":4,"v":15.8},{"s":"A116","k":5,"v":18.2},{"s":"A116","k":6,"v":18.3},
{"s":"A117","k":0,"v":17.0},{"s":"A117","k":1,"v":15.2},{"s":"A117","k":2,"v":17.7},{"s":"A117","k":3,"v":18.7},{"s":"A117","k":4,"v":16.5},{"s":"A117","k":5,"v":20.7},{"s":"A117","k":6,"v":20.3},
{"s":"A118","k":0,"v":14.3},{"s":"A118","k":1,"v":14.2},{"s":"A118","k":2,"v":15.0},{"s":"A118","k":3,"v":15.9},{"s":"A118","k":4,"v":15.3},{"s":"A118","k":5,"v":16.3},{"s":"A118","k":6,"v":16.9},
{"s":"A119","k":0,"v":15.8},{"s":"A119","k":1,"v":14.8},{"s":"A119","k":2,"v":16.2},{"s":"A119","k":3,"v":17.2},{"s":"A119","k":4,"v":16.0},{"s":"A119","k":5,"v":18.9},{"s":"A119","k":6,"v":18.5},
{"s":"A120","k":0,"v":17.1},{"s":"A120","k":1,"v":15.3},{"s":"A120","k":2,"v":17.8},{"s":"A120","k":3,"v":19.0},{"s":"A120","k":4,"v":16.7},{"s":"A120","k":5,"v":20.7},{"s":"A120","k":6,"v":20.8},
{"s":"A121","k":0,"v":14.8},{"s":"A121","k":1,"v":14.3},{"s":"A121","k":2,"v":15.3},{"s":"A121","k":3,"v":16.1},{"s":"A121","k":4,"v":15.4},{"s":"A121","k":5,"v":17.1},{"s":"A121","k":6,"v":17.2},
{"s":"A122","k":0,"v":16.3},{"s":"A122","k":1,"v":14.8},{"s":"A122","k":2,"v":17.0},{"s":"A122","k":3,"v":17.8},{"s":"A122","k":4,"v":16.1},{"s":"A122","k":5,"v":19.6},{"s":"A122","k":6,"v":19.2},
{"s":"A123","k":0,"v":13.6},{"s":"A123","k":1,"v":13.9},{"s":"A123","k":2,"v":14.2},{"s":"A123","k":3,"v":15.0},{"s":"A123","k":4,"v":14.9},{"s":"A123","k":5,"v":15.2},{"s":"A123","k":6,"v":15.9},
{"s":"A124","k":0,"v":15.1},{"s":"A124","k":1,"v":14.5},{"s":"A124","k":2,"v":15.4},{"s":"A124","k":3,"v":16.3},{"s":"A124","k":4,"v":15.5},{"s":"A124","k":5,"v":17.8},{"s":"A124","k":6,"v":17.4},
{"s":"A125","k":0,"v":16.5},{"s":"A125","k":1,"v":14.9},{"s":"A125","k":2,"v":17.2},{"s":"A125","k":3,"v":18.4},{"s":"A125","k":4,"v":16.3},{"s":"A125","k":5,"v":19.6},{"s":"A125","k":6,"v":20.0},
{"s":"A126","k":0,"v":14.1},{"s":"A126","k":1,"v":13.9},{"s":"A126","k":2,"v":14.5},{"s":"A126","k":3,"v":15.2},{"s":"A126","k":4,"v":14.9},{"s":"A126","k":5,"v":16.0},{"s":"A126","k":6,"v":16.2},
{"s":"A127","k":0,"v":15.6},{"s":"A127","k":1,"v":14.5},{"s":"A127","k":2,"v":16.2},{"s":"A127","k":3,"v":16.8},{"s":"A127","k":4,"v":15.6},{"s":"A127","k":5,"v":18.4},{"s":"A127","k":6,"v":18.2},
{"s":"A128","k":0,"v":16.5},{"s":"A128","k":1,"v":15.3},{"s":"A128","k":2,"v":17.4},{"s":"A128","k":3,"v":18.8},{"s":"A128","k":4,"v":16.7},{"s":"A128","k":5,"v":19.9},{"s":"A128","k":6,"v":20.3},
{"s":"A129","k":0,"v":14.4},{"s":"A129","k":1,"v":14.1},{"s":"A129","k":2,"v":14.6},{"s":"A129","k":3,"v":15.4},{"s":"A129","k":4,"v":15.1},{"s":"A129","k":5,"v":16.6},{"s":"A129","k":6,"v":16.3},
{"s":"A130","k":0,"v":15.8},{"s":"A130","k":1,"v":14.6},{"s":"A130","k":2,"v":16.4},{"s":"A130","k":3,"v":17.5},{"s":"A130","k":4,"v":15.9},{"s":"A130","k":5,"v":18.4},{"s":"A130","k":6,"v":18.9},
{"s":"A131","k":0,"v":17.0},{"s":"A131","k":1,"v":15.3},{"s":"A131","k":2,"v":17.7},{"s":"A131","k":3,"v":18.9},{"s":"A131","k":4,"v":16.7},{"s":"A131","k":5,"v":20.7},{"s":"A131","k":6,"v":20.6},
{"s":"A132","k":0,"v":14.9},{"s":"A132","k":1,"v":14.2},{"s":"A132","k":2,"v":15.4},{"s":"A132","k":3,"v":15.9},{"s":"A132","k":4,"v":15.2},{"s":"A132","k":5,"v":17.3},{"s":"A132","k":6,"v":17.1},
{"s":"A133","k":0,"v":15.8},{"s":"A133","k":1,"v":14.9},{"s":"A133","k":2,"v":16.6},{"s":"A133","k":3,"v":17.9},{"s":"A133","k":4,"v":16.2},{"s":"A133","k":5,"v":18.7},{"s":"A133","k":6,"v":19.2},
{"s":"A134","k":0,"v":13.7},{"s":"A134","k":1,"v":13.8},{"s":"A134","k":2,"v":13.9},{"s":"A134","k":3,"v":14.5},{"s":"A134","k":4,"v":14.7},{"s":"A134","k":5,"v":15.5},{"s":"A134","k":6,"v":15.4},
{"s":"A135","k":0,"v":15.1},{"s":"A135","k":1,"v":14.3},{"s":"A135","k":2,"v":15.6},{"s":"A135","k":3,"v":16.6},{"s":"A135","k":4,"v":15.4},{"s":"A135","k":5,"v":17.3},{"s":"A135","k":6,"v":17.9},
{"s":"A136","k":0,"v":16.3},{"s":"A136","k":1,"v":15.0},{"s":"A136","k":2,"v":17.0},{"s":"A136","k":3,"v":18.0},{"s":"A136","k":4,"v":16.3},{"s":"A136","k":5,"v":19.6},{"s":"A136","k":6,"v":19.5},
{"s":"A137","k":0,"v":14.2},{"s":"A137","k":1,"v":13.8},{"s":"A137","k":2,"v":14.6},{"s":"A137","k":3,"v":15.0},{"s":"A137","k":4,"v":14.7},{"s":"A137","k":5,"v":16.1},{"s":"A137","k":6,"v":16.0},
{"s":"A138","k":0,"v":15.1},{"s":"A138","k":1,"v":14.6},{"s":"A138","k":2,"v":15.8},{"s":"A138","k":3,"v":17.0},{"s":"A138","k":4,"v":15.8},{"s":"A138","k":5,"v":17.6},{"s":"A138","k":6,"v":18.2},
{"s":"A139","k":0,"v":16.6},{"s":"A139","k":1,"v":15.2},{"s":"A139","k":2,"v":17.1},{"s":"A139","k":3,"v":18.3},{"s":"A139","k":4,"v":16.5},{"s":"A139","k":5,"v":20.2},{"s":"A139","k":6,"v":19.7},
{"s":"A140","k":0,"v":14.4},{"s":"A140","k":1,"v":13.9},{"s":"A140","k":2,"v":14.8},{"s":"A140","k":3,"v":15.7},{"s":"A140","k":4,"v":15.0},{"s":"A140","k":5,"v":16.1},{"s":"A140","k":6,"v":16.8},
{"s":"A141","k":0,"v":15.6},{"s":"A141","k":1,"v":14.6},{"s":"A141","k":2,"v":16.2},{"s":"A141","k":3,"v":17.1},{"s":"A141","k":4,"v":15.9},{"s":"A141","k":5,"v":18.4},{"s":"A141","k":6,"v":18.5},
{"s":"A142","k":0,"v":17.1},{"s":"A142","k":1,"v":15.2},{"s":"A142","k":2,"v":17.8},{"s":"A142","k":3,"v":18.8},{"s":"A142","k":4,"v":16.6},{"s":"A142","k":5,"v":20.9},{"s":"A142","k":6,"v":20.5},
{"s":"A143","k":0,"v":14.4},{"s":"A143","k":1,"v":14.3},{"s":"A143","k":2,"v":15.1},{"s":"A143","k":3,"v":16.1},{"s":"A143","k":4,"v":15.4},{"s":"A143","k":5,"v":16.5},{"s":"A143","k":6,"v":17.1},
{"s":"A144","k":0,"v":15.9},{"s":"A144","k":1,"v":14.8},{"s":"A144","k":2,"v":16.3},{"s":"A144","k":3,"v":17.4},{"s":"A144","k":4,"v":16.1},{"s":"A144","k":5,"v":19.1},{"s":"A144","k":6,"v":18.6},
{"s":"A145","k":0,"v":13.5},{"s":"A145","k":1,"v":13.6},{"s":"A145","k":2,"v":13.9},{"s":"A145","k":3,"v":14.5},{"s":"A145","k":4,"v":14.6},{"s":"A145","k":5,"v":15.1},{"s":"A145","k":6,"v":15.4},
{"s":"A146","k":0,"v":14.9},{"s":"A146","k":1,"v":14.3},{"s":"A146","k":2,"v":15.4},{"s":"A146","k":3,"v":16.2},{"s":"A146","k":4,"v":15.4},{"s":"A146","k":5,"v":17.3},{"s":"A146","k":6,"v":17.4},
{"s":"A147","k":0,"v":16.4},{"s":"A147","k":1,"v":14.9},{"s":"A147","k":2,"v":17.1},{"s":"A147","k":3,"v":17.9},{"s":"A147","k":4,"v":16.1},{"s":"A147","k":5,"v":19.7},{"s":"A147","k":6,"v":19.4},
{"s":"A148","k":0,"v":13.7},{"s":"A148","k":1,"v":13.9},{"s":"A148","k":2,"v":14.3},{"s":"A148","k":3,"v":15.2},{"s":"A148","k":4,"v":14.9},{"s":"A148","k":5,"v":15.3},{"s":"A148","k":6,"v":16.0},
{"s":"A149","k":0,"v":15.2},{"s":"A149","k":1,"v":14.5},{"s":"A149","k":2,"v":15.5},{"s":"A149","k":3,"v":16.5},{"s":"A149","k":4,"v":15.6},{"s":"A149","k":5,"v":17.9},{"s":"A149","k":6,"v":17.5},
{"s":"A150","k":0,"v":16.6},{"s":"A150","k":1,"v":15.0},{"s":"A150","k":2,"v":17.3},{"s":"A150","k":3,"v":18.5},{"s":"A150","k":4,"v":16.4},{"s":"A150","k":5,"v":19.7},{"s":"A150","k":6,"v":20.1},
{"s":"A151","k":0,"v":14.2},{"s":"A151","k":1,"v":14.0},{"s":"A151","k":2,"v":14.6},{"s":"A151","k":3,"v":15.3},{"s":"A151","k":4,"v":15.0},{"s":"A151","k":5,"v":16.1},{"s":"A151","k":6,"v":16.3},
{"s":"A152","k":0,"v":15.7},{"s":"A152","k":1,"v":14.5},{"s":"A152","k":2,"v":16.3},{"s":"A152","k":3,"v":17.0},{"s":"A152","k":4,"v":15.7},{"s":"A152","k":5,"v":18.6},{"s":"A152","k":6,"v":18.3},
{"s":"A153","k":0,"v":16.6},{"s":"A153","k":1,"v":15.3},{"s":"A153","k":2,"v":17.5},{"s":"A153","k":3,"v":18.9},{"s":"A153","k":4,"v":16.7},{"s":"A153","k":5,"v":20.0},{"s":"A153","k":6,"v":20.5},
{"s":"A154","k":0,"v":14.5},{"s":"A154","k":1,"v":14.2},{"s":"A154","k":2,"v":14.7},{"s":"A154","k":3,"v":15.5},{"s":"A154","k":4,"v":15.2},{"s":"A154","k":5,"v":16.8},{"s":"A154","k":6,"v":16.5},
{"s":"A155","k":0,"v":15.9},{"s":"A155","k":1,"v":14.6},{"s":"A155","k":2,"v":16.5},{"s":"A155","k":3,"v":17.6},{"s":"A155","k":4,"v":15.9},{"s":"A155","k":5,"v":18.6},{"s":"A155","k":6,"v":19.1},
{"s":"A156","k":0,"v":17.1},{"s":"A156","k":1,"v":15.4},{"s":"A156","k":2,"v":17.8},{"s":"A156","k":3,"v":19.0},{"s":"A156","k":4,"v":16.8},{"s":"A156","k":5,"v":20.9},{"s":"A156","k":6,"v":20.8},
{"s":"A157","k":0,"v":15.0},{"s":"A157","k":1,"v":14.2},{"s":"A157","k":2,"v":15.5},{"s":"A157","k":3,"v":16.1},{"s":"A157","k":4,"v":15.2},{"s":"A157","k":5,"v":17.4},{"s":"A157","k":6,"v":17.2},
{"s":"A158","k":0,"v":15.9},{"s":"A158","k":1,"v":15.0},{"s":"A158","k":2,"v":16.7},{"s":"A158","k":3,"v":18.0},{"s":"A158","k":4,"v":16.3},{"s":"A158","k":5,"v":18.9},{"s":"A158","k":6,"v":19.4},
{"s":"A159","k":0,"v":13.8},{"s":"A159","k":1,"v":13.8},{"s":"A159","k":2,"v":13.9},{"s":"A159","k":3,"v":14.6},{"s":"A159","k":4,"v":14.7},{"s":"A159","k":5,"v":15.6},{"s":"A159","k":6,"v":15.4},
{"s":"A160","k":0,"v":15.2},{"s":"A160","k":1,"v":14.3},{"s":"A160","k":2,"v":15.7},{"s":"A160","k":3,"v":16.7},{"s":"A160","k":4,"v":15.5},{"s":"A160","k":5,"v":17.4},{"s":"A160","k":6,"v":18.0},
{"s":"A161","k":0,"v":16.4},{"s":"A161","k":1,"v":15.0},{"s":"A161","k":2,"v":17.1},{"s":"A161","k":3,"v":18.1},{"s":"A161","k":4,"v":16.4},{"s":"A161","k":5,"v":19.7},{"s":"A161","k":6,"v":19.7},
{"s":"A162","k":0,"v":14.3},{"s":"A162","k":1,"v":13.9},{"s":"A162","k":2,"v":14.7},{"s":"A162","k":3,"v":15.2},{"s":"A162","k":4,"v":14.8},{"s":"A162","k":5,"v":16.3},{"s":"A162","k":6,"v":16.2},
{"s":"A163","k":0,"v":15.2},{"s":"A163","k":1,"v":14.6},{"s":"A163","k":2,"v":16.0},{"s":"A163","k":3,"v":17.1},{"s":"A163","k":4,"v":15.9},{"s":"A163","k":5,"v":17.8},{"s":"A163","k":6,"v":18.3},
{"s":"A164","k":0,"v":16.7},{"s":"A164","k":1,"v":15.2},{"s":"A164","k":2,"v":17.2},{"s":"A164","k":3,"v":18.4},{"s":"A164","k":4,"v":16.6},{"s":"A164","k":5,"v":20.4},{"s":"A164","k":6,"v":19.8},
{"s":"A165","k":0,"v":14.5},{"s":"A165","k":1,"v":14.0},{"s":"A165","k":2,"v":15.0},{"s":"A165","k":3,"v":15.8},{"s":"A165","k":4,"v":15.0},{"s":"A165","k":5,"v":16.3},{"s":"A165","k":6,"v":16.9},
{"s":"A166","k":0,"v":15.7},{"s":"A166","k":1,"v":14.7},{"s":"A166","k":2,"v":16.3},{"s":"A166","k":3,"v":17.2},{"s":"A166","k":4,"v":15.9},{"s":"A166","k":5,"v":18.6},{"s":"A166","k":6,"v":18.6},
{"s":"A167","k":0,"v":17.1},{"s":"A167","k":1,"v":15.3},{"s":"A167","k":2,"v":17.8},{"s":"A167","k":3,"v":18.9},{"s":"A167","k":4,"v":16.6},{"s":"A167","k":5,"v":20.9},{"s":"A167","k":6,"v":20.6},
{"s":"A168","k":0,"v":14.5},{"s":"A168","k":1,"v":14.3},{"s":"A168","k":2,"v":15.2},{"s":"A168","k":3,"v":16.2},{"s":"A168","k":4,"v":15.4},{"s":"A168","k":5,"v":16.6},{"s":"A168","k":6,"v":17.2},
{"s":"A169","k":0,"v":16.0},{"s":"A169","k":1,"v":14.9},{"s":"A169","k":2,"v":16.4},{"s":"A169","k":3,"v":17.5},{"s":"A169","k":4,"v":16.1},{"s":"A169","k":5,"v":19.2},{"s":"A169","k":6,"v":18.8},
{"s":"A170","k":0,"v":13.8},{"s":"A170","k":1,"v":13.7},{"s":"A170","k":2,"v":14.2},{"s":"A170","k":3,"v":14.9},{"s":"A170","k":4,"v":14.6},{"s":"A170","k":5,"v":15.2},{"s":"A170","k":6,"v":15.9},
{"s":"A171","k":0,"v":15.0},{"s":"A171","k":1,"v":14.4},{"s":"A171","k":2,"v":15.5},{"s":"A171","k":3,"v":16.3},{"s":"A171","k":4,"v":15.5},{"s":"A171","k":5,"v":17.4},{"s":"A171","k":6,"v":17.5},
{"s":"A172","k":0,"v":16.5},{"s":"A172","k":1,"v":14.9},{"s":"A172","k":2,"v":17.2},{"s":"A172","k":3,"v":18.0},{"s":"A172","k":4,"v":16.2},{"s":"A172","k":5,"v":19.9},{"s":"A172","k":6,"v":19.5},
{"s":"A173","k":0,"v":13.8},{"s":"A173","k":1,"v":14.0},{"s":"A173","k":2,"v":14.4},{"s":"A173","k":3,"v":15.3},{"s":"A173","k":4,"v":15.0},{"s":"A173","k":5,"v":15.5},{"s":"A173","k":6,"v":16.2},
{"s":"A174","k":0,"v":15.3},{"s":"A174","k":1,"v":14.5},{"s":"A174","k":2,"v":15.6},{"s":"A174","k":3,"v":16.6},{"s":"A174","k":4,"v":15.7},{"s":"A174","k":5,"v":18.1},{"s":"A174","k":6,"v":17.7},
{"s":"A175","k":0,"v":16.7},{"s":"A175","k":1,"v":15.0},{"s":"A175","k":2,"v":17.4},{"s":"A175","k":3,"v":18.7},{"s":"A175","k":4,"v":16.4},{"s":"A175","k":5,"v":19.9},{"s":"A175","k":6,"v":20.3},
{"s":"A176","k":0,"v":14.3},{"s":"A176","k":1,"v":14.0},{"s":"A176","k":2,"v":14.7},{"s":"A176","k":3,"v":15.4},{"s":"A176","k":4,"v":15.0},{"s":"A176","k":5,"v":16.3},{"s":"A176","k":6,"v":16.5},
{"s":"A177","k":0,"v":15.8},{"s":"A177","k":1,"v":14.6},{"s":"A177","k":2,"v":16.4},{"s":"A177","k":3,"v":17.1},{"s":"A177","k":4,"v":15.7},{"s":"A177","k":5,"v":18.7},{"s":"A177","k":6,"v":18.5},
{"s":"A178","k":0,"v":16.7},{"s":"A178","k":1,"v":15.4},{"s":"A178","k":2,"v":17.6},{"s":"A178","k":3,"v":19.0},{"s":"A178","k":4,"v":16.8},{"s":"A178","k":5,"v":20.2},{"s":"A178","k":6,"v":20.6},
{"s":"A179","k":0,"v":14.6},{"s":"A179","k":1,"v":14.2},{"s":"A179","k":2,"v":14.8},{"s":"A179","k":3,"v":15.7},{"s":"A179","k":4,"v":15.2},{"s":"A179","k":5,"v":16.9},{"s":"A179","k":6,"v":16.6},
{"s":"A180","k":0,"v":16.0},{"s":"A180","k":1,"v":14.7},{"s":"A180","k":2,"v":16.6},{"s":"A180","k":3,"v":17.8},{"s":"A180","k":4,"v":16.0},{"s":"A180","k":5,"v":18.7},{"s":"A180","k":6,"v":19.2},
{"s":"A181","k":0,"v":13.7},{"s":"A181","k":1,"v":13.7},{"s":"A181","k":2,"v":13.9},{"s":"A181","k":3,"v":14.6},{"s":"A181","k":4,"v":14.6},{"s":"A181","k":5,"v":15.2},{"s":"A181","k":6,"v":15.6},
{"s":"A182","k":0,"v":14.8},{"s":"A182","k":1,"v":14.3},{"s":"A182","k":2,"v":15.5},{"s":"A182","k":3,"v":15.9},{"s":"A182","k":4,"v":15.5},{"s":"A182","k":5,"v":17.3},{"s":"A182","k":6,"v":17.2},
{"s":"A183","k":0,"v":16.4},{"s":"A183","k":1,"v":15.0},{"s":"A183","k":2,"v":16.7},{"s":"A183","k":3,"v":17.9},{"s":"A183","k":4,"v":16.2},{"s":"A183","k":5,"v":19.6},{"s":"A183","k":6,"v":19.2},
{"s":"A184","k":0,"v":13.8},{"s":"A184","k":1,"v":13.8},{"s":"A184","k":2,"v":14.5},{"s":"A184","k":3,"v":15.0},{"s":"A184","k":4,"v":14.9},{"s":"A184","k":5,"v":15.5},{"s":"A184","k":6,"v":16.0},
{"s":"A185","k":0,"v":15.2},{"s":"A185","k":1,"v":14.5},{"s":"A185","k":2,"v":15.7},{"s":"A185","k":3,"v":16.5},{"s":"A185","k":4,"v":15.5},{"s":"A185","k":5,"v":18.1},{"s":"A185","k":6,"v":18.0},
{"s":"A186","k":0,"v":16.6},{"s":"A186","k":1,"v":15.1},{"s":"A186","k":2,"v":17.1},{"s":"A186","k":3,"v":18.4},{"s":"A186","k":4,"v":16.4},{"s":"A186","k":5,"v":19.7},{"s":"A186","k":6,"v":20.0},
{"s":"A187","k":0,"v":14.1},{"s":"A187","k":1,"v":14.0},{"s":"A187","k":2,"v":14.7},{"s":"A187","k":3,"v":15.0},{"s":"A187","k":4,"v":15.0},{"s":"A187","k":5,"v":16.1},{"s":"A187","k":6,"v":16.2},
{"s":"A188","k":0,"v":15.7},{"s":"A188","k":1,"v":14.6},{"s":"A188","k":2,"v":16.0},{"s":"A188","k":3,"v":17.0},{"s":"A188","k":4,"v":15.7},{"s":"A188","k":5,"v":18.4},{"s":"A188","k":6,"v":18.2},
{"s":"A189","k":0,"v":16.7},{"s":"A189","k":1,"v":15.2},{"s":"A189","k":2,"v":17.7},{"s":"A189","k":3,"v":18.8},{"s":"A189","k":4,"v":16.7},{"s":"A189","k":5,"v":20.2},{"s":"A189","k":6,"v":20.5},
{"s":"A190","k":0,"v":14.5},{"s":"A190","k":1,"v":14.2},{"s":"A190","k":2,"v":15.0},{"s":"A190","k":3,"v":15.5},{"s":"A190","k":4,"v":15.0},{"s":"A190","k":5,"v":16.9},{"s":"A190","k":6,"v":16.9},
{"s":"A191","k":0,"v":15.9},{"s":"A191","k":1,"v":14.8},{"s":"A191","k":2,"v":16.3},{"s":"A191","k":3,"v":17.5},{"s":"A191","k":4,"v":16.0},{"s":"A191","k":5,"v":18.6},{"s":"A191","k":6,"v":18.9},
{"s":"A192","k":0,"v":17.0},{"s":"A192","k":1,"v":15.4},{"s":"A192","k":2,"v":17.8},{"s":"A192","k":3,"v":18.8},{"s":"A192","k":4,"v":16.8},{"s":"A192","k":5,"v":20.9},{"s":"A192","k":6,"v":20.6},
{"s":"A193","k":0,"v":15.0},{"s":"A193","k":1,"v":14.3},{"s":"A193","k":2,"v":15.2},{"s":"A193","k":3,"v":16.1},{"s":"A193","k":4,"v":15.3},{"s":"A193","k":5,"v":17.3},{"s":"A193","k":6,"v":17.1},
{"s":"A194","k":0,"v":16.0},{"s":"A194","k":1,"v":14.8},{"s":"A194","k":2,"v":17.0},{"s":"A194","k":3,"v":17.9},{"s":"A194","k":4,"v":16.3},{"s":"A194","k":5,"v":19.1},{"s":"A194","k":6,"v":19.4},
{"s":"A195","k":0,"v":13.8},{"s":"A195","k":1,"v":13.9},{"s":"A195","k":2,"v":14.2},{"s":"A195","k":3,"v":14.6},{"s":"A195","k":4,"v":14.6},{"s":"A195","k":5,"v":15.8},{"s":"A195","k":6,"v":15.9},
{"s":"A196","k":0,"v":15.2},{"s":"A196","k":1,"v":14.5},{"s":"A196","k":2,"v":15.5},{"s":"A196","k":3,"v":16.6},{"s":"A196","k":4,"v":15.5},{"s":"A196","k":5,"v":17.4},{"s":"A196","k":6,"v":17.9},
{"s":"A197","k":0,"v":16.3},{"s":"A197","k":1,"v":15.0},{"s":"A197","k":2,"v":17.2},{"s":"A197","k":3,"v":17.9},{"s":"A197","k":4,"v":16.4},{"s":"A197","k":5,"v":19.7},{"s":"A197","k":6,"v":19.5},
{"s":"A198","k":0,"v":14.3},{"s":"A198","k":1,"v":14.0},{"s":"A198","k":2,"v":14.4},{"s":"A198","k":3,"v":15.2},{"s":"A198","k":4,"v":14.9},{"s":"A198","k":5,"v":16.1},{"s":"A198","k":6,"v":16.0},
{"s":"A199","k":0,"v":15.3},{"s":"A199","k":1,"v":14.5},{"s":"A199","k":2,"v":16.2},{"s":"A199","k":3,"v":17.0},{"s":"A199","k":4,"v":15.9},{"s":"A199","k":5,"v":17.9},{"s":"A199","k":6,"v":18.3},
{"s":"A200","k":0,"v":16.7},{"s":"A200","k":1,"v":15.3},{"s":"A200","k":2,"v":17.4},{"s":"A200","k":3,"v":18.4},{"s":"A200","k":4,"v":16.4},{"s":"A200","k":5,"v":20.5},{"s":"A200","k":6,"v":20.3},
{"s":"A201","k":0,"v":14.5},{"s":"A201","k":1,"v":14.1},{"s":"A201","k":2,"v":14.7},{"s":"A201","k":3,"v":15.7},{"s":"A201","k":4,"v":15.1},{"s":"A201","k":5,"v":16.3},{"s":"A201","k":6,"v":16.8},
{"s":"A202","k":0,"v":15.6},{"s":"A202","k":1,"v":14.7},{"s":"A202","k":2,"v":16.4},{"s":"A202","k":3,"v":17.0},{"s":"A202","k":4,"v":16.0},{"s":"A202","k":5,"v":18.6},{"s":"A202","k":6,"v":18.5},
{"s":"A203","k":0,"v":17.1},{"s":"A203","k":1,"v":15.4},{"s":"A203","k":2,"v":17.6},{"s":"A203","k":3,"v":18.9},{"s":"A203","k":4,"v":16.7},{"s":"A203","k":5,"v":20.9},{"s":"A203","k":6,"v":20.5},
{"s":"A204","k":0,"v":14.6},{"s":"A204","k":1,"v":14.2},{"s":"A204","k":2,"v":15.4},{"s":"A204","k":3,"v":16.1},{"s":"A204","k":4,"v":15.4},{"s":"A204","k":5,"v":16.8},{"s":"A204","k":6,"v":17.2},
{"s":"A205","k":0,"v":16.0},{"s":"A205","k":1,"v":14.9},{"s":"A205","k":2,"v":16.6},{"s":"A205","k":3,"v":17.5},{"s":"A205","k":4,"v":16.0},{"s":"A205","k":5,"v":19.4},{"s":"A205","k":6,"v":19.2},
{"s":"A206","k":0,"v":13.8},{"s":"A206","k":1,"v":13.8},{"s":"A206","k":2,"v":13.9},{"s":"A206","k":3,"v":14.8},{"s":"A206","k":4,"v":14.7},{"s":"A206","k":5,"v":15.2},{"s":"A206","k":6,"v":15.7},
{"s":"A207","k":0,"v":14.9},{"s":"A207","k":1,"v":14.4},{"s":"A207","k":2,"v":15.6},{"s":"A207","k":3,"v":16.1},{"s":"A207","k":4,"v":15.5},{"s":"A207","k":5,"v":17.4},{"s":"A207","k":6,"v":17.4},
{"s":"A208","k":0,"v":16.5},{"s":"A208","k":1,"v":15.0},{"s":"A208","k":2,"v":16.8},{"s":"A208","k":3,"v":18.0},{"s":"A208","k":4,"v":16.2},{"s":"A208","k":5,"v":19.7},{"s":"A208","k":6,"v":19.4},
{"s":"A209","k":0,"v":13.9},{"s":"A209","k":1,"v":13.8},{"s":"A209","k":2,"v":14.6},{"s":"A209","k":3,"v":15.2},{"s":"A209","k":4,"v":15.0},{"s":"A209","k":5,"v":15.6},{"s":"A209","k":6,"v":16.2},
{"s":"A210","k":0,"v":15.3},{"s":"A210","k":1,"v":14.6},{"s":"A210","k":2,"v":15.8},{"s":"A210","k":3,"v":16.6},{"s":"A210","k":4,"v":15.5},{"s":"A210","k":5,"v":18.2},{"s":"A210","k":6,"v":18.2},
{"s":"A211","k":0,"v":16.7},{"s":"A211","k":1,"v":15.2},{"s":"A211","k":2,"v":17.2},{"s":"A211","k":3,"v":18.5},{"s":"A211","k":4,"v":16.5},{"s":"A211","k":5,"v":19.9},{"s":"A211","k":6,"v":20.1},
{"s":"A212","k":0,"v":14.2},{"s":"A212","k":1,"v":14.0},{"s":"A212","k":2,"v":14.8},{"s":"A212","k":3,"v":15.2},{"s":"A212","k":4,"v":15.1},{"s":"A212","k":5,"v":16.3},{"s":"A212","k":6,"v":16.3},
{"s":"A213","k":0,"v":15.8},{"s":"A213","k":1,"v":14.7},{"s":"A213","k":2,"v":16.1},{"s":"A213","k":3,"v":17.1},{"s":"A213","k":4,"v":15.8},{"s":"A213","k":5,"v":18.6},{"s":"A213","k":6,"v":18.3},
{"s":"A214","k":0,"v":16.8},{"s":"A214","k":1,"v":15.2},{"s":"A214","k":2,"v":17.8},{"s":"A214","k":3,"v":18.9},{"s":"A214","k":4,"v":16.8},{"s":"A214","k":5,"v":20.4},{"s":"A214","k":6,"v":20.6},
{"s":"A215","k":0,"v":14.6},{"s":"A215","k":1,"v":14.3},{"s":"A215","k":2,"v":15.1},{"s":"A215","k":3,"v":15.7},{"s":"A215","k":4,"v":15.1},{"s":"A215","k":5,"v":17.1},{"s":"A215","k":6,"v":17.1},
{"s":"A216","k":0,"v":16.0},{"s":"A216","k":1,"v":14.8},{"s":"A216","k":2,"v":16.4},{"s":"A216","k":3,"v":17.6},{"s":"A216","k":4,"v":16.1},{"s":"A216","k":5,"v":18.7},{"s":"A216","k":6,"v":19.1},
{"s":"A217","k":0,"v":13.6},{"s":"A217","k":1,"v":13.7},{"s":"A217","k":2,"v":14.1},{"s":"A217","k":3,"v":14.5},{"s":"A217","k":4,"v":14.7},{"s":"A217","k":5,"v":15.2},{"s":"A217","k":6,"v":15.4},
{"s":"A218","k":0,"v":15.1},{"s":"A218","k":1,"v":14.4},{"s":"A218","k":2,"v":15.3},{"s":"A218","k":3,"v":16.2},{"s":"A218","k":4,"v":15.4},{"s":"A218","k":5,"v":17.4},{"s":"A218","k":6,"v":17.2},
{"s":"A219","k":0,"v":16.1},{"s":"A219","k":1,"v":14.9},{"s":"A219","k":2,"v":17.1},{"s":"A219","k":3,"v":18.0},{"s":"A219","k":4,"v":16.4},{"s":"A219","k":5,"v":19.2},{"s":"A219","k":6,"v":19.5},
{"s":"A220","k":0,"v":13.9},{"s":"A220","k":1,"v":13.9},{"s":"A220","k":2,"v":14.3},{"s":"A220","k":3,"v":14.8},{"s":"A220","k":4,"v":14.7},{"s":"A220","k":5,"v":16.0},{"s":"A220","k":6,"v":16.0},
{"s":"A221","k":0,"v":15.3},{"s":"A221","k":1,"v":14.5},{"s":"A221","k":2,"v":15.6},{"s":"A221","k":3,"v":16.7},{"s":"A221","k":4,"v":15.6},{"s":"A221","k":5,"v":17.6},{"s":"A221","k":6,"v":18.0},
{"s":"A222","k":0,"v":16.4},{"s":"A222","k":1,"v":15.1},{"s":"A222","k":2,"v":17.3},{"s":"A222","k":3,"v":18.0},{"s":"A222","k":4,"v":16.5},{"s":"A222","k":5,"v":19.9},{"s":"A222","k":6,"v":19.7},
{"s":"A223","k":0,"v":14.4},{"s":"A223","k":1,"v":14.0},{"s":"A223","k":2,"v":14.5},{"s":"A223","k":3,"v":15.3},{"s":"A223","k":4,"v":14.9},{"s":"A223","k":5,"v":16.3},{"s":"A223","k":6,"v":16.2},
{"s":"A224","k":0,"v":15.4},{"s":"A224","k":1,"v":14.5},{"s":"A224","k":2,"v":16.3},{"s":"A224","k":3,"v":17.1},{"s":"A224","k":4,"v":15.9},{"s":"A224","k":5,"v":18.1},{"s":"A224","k":6,"v":18.5},
{"s":"A225","k":0,"v":16.8},{"s":"A225","k":1,"v":15.3},{"s":"A225","k":2,"v":17.5},{"s":"A225","k":3,"v":18.5},{"s":"A225","k":4,"v":16.5},{"s":"A225","k":5,"v":20.7},{"s":"A225","k":6,"v":20.5},
{"s":"A226","k":0,"v":14.6},{"s":"A226","k":1,"v":14.2},{"s":"A226","k":2,"v":14.8},{"s":"A226","k":3,"v":15.8},{"s":"A226","k":4,"v":15.2},{"s":"A226","k":5,"v":16.5},{"s":"A226","k":6,"v":16.9},
{"s":"A227","k":0,"v":15.7},{"s":"A227","k":1,"v":14.7},{"s":"A227","k":2,"v":16.5},{"s":"A227","k":3,"v":17.1},{"s":"A227","k":4,"v":16.1},{"s":"A227","k":5,"v":18.7},{"s":"A227","k":6,"v":18.6},
{"s":"A228","k":0,"v":17.1},{"s":"A228","k":1,"v":15.4},{"s":"A228","k":2,"v":17.7},{"s":"A228","k":3,"v":19.0},{"s":"A228","k":4,"v":16.7},{"s":"A228","k":5,"v":20.9},{"s":"A228","k":6,"v":20.6},
{"s":"A229","k":0,"v":14.7},{"s":"A229","k":1,"v":14.2},{"s":"A229","k":2,"v":15.5},{"s":"A229","k":3,"v":16.2},{"s":"A229","k":4,"v":15.5},{"s":"A229","k":5,"v":16.9},{"s":"A229","k":6,"v":17.4},
{"s":"A230","k":0,"v":16.1},{"s":"A230","k":1,"v":15.0},{"s":"A230","k":2,"v":16.7},{"s":"A230","k":3,"v":17.6},{"s":"A230","k":4,"v":16.1},{"s":"A230","k":5,"v":19.6},{"s":"A230","k":6,"v":19.4},
{"s":"A231","k":0,"v":13.9},{"s":"A231","k":1,"v":13.8},{"s":"A231","k":2,"v":14.1},{"s":"A231","k":3,"v":14.9},{"s":"A231","k":4,"v":14.7},{"s":"A231","k":5,"v":15.3},{"s":"A231","k":6,"v":15.9},
{"s":"A232","k":0,"v":15.0},{"s":"A232","k":1,"v":14.4},{"s":"A232","k":2,"v":15.7},{"s":"A232","k":3,"v":16.2},{"s":"A232","k":4,"v":15.6},{"s":"A232","k":5,"v":17.6},{"s":"A232","k":6,"v":17.5},
{"s":"A233","k":0,"v":16.6},{"s":"A233","k":1,"v":15.1},{"s":"A233","k":2,"v":17.0},{"s":"A233","k":3,"v":18.1},{"s":"A233","k":4,"v":16.3},{"s":"A233","k":5,"v":19.9},{"s":"A233","k":6,"v":19.5},
{"s":"A234","k":0,"v":14.0},{"s":"A234","k":1,"v":13.9},{"s":"A234","k":2,"v":14.7},{"s":"A234","k":3,"v":15.3},{"s":"A234","k":4,"v":15.0},{"s":"A234","k":5,"v":15.8},{"s":"A234","k":6,"v":16.3},
{"s":"A235","k":0,"v":15.4},{"s":"A235","k":1,"v":14.6},{"s":"A235","k":2,"v":16.0},{"s":"A235","k":3,"v":16.7},{"s":"A235","k":4,"v":15.6},{"s":"A235","k":5,"v":18.4},{"s":"A235","k":6,"v":18.3},
{"s":"A236","k":0,"v":16.8},{"s":"A236","k":1,"v":15.2},{"s":"A236","k":2,"v":17.3},{"s":"A236","k":3,"v":18.7},{"s":"A236","k":4,"v":16.6},{"s":"A236","k":5,"v":20.0},{"s":"A236","k":6,"v":20.3},
{"s":"A237","k":0,"v":14.3},{"s":"A237","k":1,"v":14.1},{"s":"A237","k":2,"v":15.0},{"s":"A237","k":3,"v":15.3},{"s":"A237","k":4,"v":15.2},{"s":"A237","k":5,"v":16.5},{"s":"A237","k":6,"v":16.5},
{"s":"A238","k":0,"v":15.9},{"s":"A238","k":1,"v":14.7},{"s":"A238","k":2,"v":16.2},{"s":"A238","k":3,"v":17.2},{"s":"A238","k":4,"v":15.9},{"s":"A238","k":5,"v":18.7},{"s":"A238","k":6,"v":18.5},
{"s":"A239","k":0,"v":16.9},{"s":"A239","k":1,"v":15.3},{"s":"A239","k":2,"v":17.8},{"s":"A239","k":3,"v":19.0},{"s":"A239","k":4,"v":16.8},{"s":"A239","k":5,"v":20.5},{"s":"A239","k":6,"v":20.8},
{"s":"A240","k":0,"v":14.7},{"s":"A240","k":1,"v":14.3},{"s":"A240","k":2,"v":15.2},{"s":"A240","k":3,"v":15.8},{"s":"A240","k":4,"v":15.2},{"s":"A240","k":5,"v":17.3},{"s":"A240","k":6,"v":17.2},
{"s":"A241","k":0,"v":16.1},{"s":"A241","k":1,"v":14.9},{"s":"A241","k":2,"v":16.5},{"s":"A241","k":3,"v":17.8},{"s":"A241","k":4,"v":16.1},{"s":"A241","k":5,"v":18.9},{"s":"A241","k":6,"v":19.2},
{"s":"A242","k":0,"v":13.6},{"s":"A242","k":1,"v":13.7},{"s":"A242","k":2,"v":14.2},{"s":"A242","k":3,"v":14.5},{"s":"A242","k":4,"v":14.7},{"s":"A242","k":5,"v":15.3},{"s":"A242","k":6,"v":15.4},
{"s":"A243","k":0,"v":15.2},{"s":"A243","k":1,"v":14.4},{"s":"A243","k":2,"v":15.4},{"s":"A243","k":3,"v":16.3},{"s":"A243","k":4,"v":15.4},{"s":"A243","k":5,"v":17.6},{"s":"A243","k":6,"v":17.4},
{"s":"A244","k":0,"v":16.2},{"s":"A244","k":1,"v":14.9},{"s":"A244","k":2,"v":17.2},{"s":"A244","k":3,"v":18.1},{"s":"A244","k":4,"v":16.4},{"s":"A244","k":5,"v":19.4},{"s":"A244","k":6,"v":19.7},
{"s":"A245","k":0,"v":14.0},{"s":"A245","k":1,"v":14.0},{"s":"A245","k":2,"v":14.4},{"s":"A245","k":3,"v":14.9},{"s":"A245","k":4,"v":14.7},{"s":"A245","k":5,"v":16.1},{"s":"A245","k":6,"v":16.2},
{"s":"A246","k":0,"v":15.4},{"s":"A246","k":1,"v":14.5},{"s":"A246","k":2,"v":15.7},{"s":"A246","k":3,"v":16.8},{"s":"A246","k":4,"v":15.7},{"s":"A246","k":5,"v":17.8},{"s":"A246","k":6,"v":18.2},
{"s":"A247","k":0,"v":16.5},{"s":"A247","k":1,"v":15.1},{"s":"A247","k":2,"v":17.4},{"s":"A247","k":3,"v":18.1},{"s":"A247","k":4,"v":16.6},{"s":"A247","k":5,"v":20.0},{"s":"A247","k":6,"v":19.8},
{"s":"A248","k":0,"v":14.5},{"s":"A248","k":1,"v":14.1},{"s":"A248","k":2,"v":14.6},{"s":"A248","k":3,"v":15.4},{"s":"A248","k":4,"v":15.0},{"s":"A248","k":5,"v":16.5},{"s":"A248","k":6,"v":16.3},
{"s":"A249","k":0,"v":15.5},{"s":"A249","k":1,"v":14.6},{"s":"A249","k":2,"v":16.4},{"s":"A249","k":3,"v":17.2},{"s":"A249","k":4,"v":16.0},{"s":"A249","k":5,"v":18.2},{"s":"A249","k":6,"v":18.6},
{"s":"A250","k":0,"v":16.9},{"s":"A250","k":1,"v":15.4},{"s":"A250","k":2,"v":17.6},{"s":"A250","k":3,"v":18.7},{"s":"A250","k":4,"v":16.6},{"s":"A250","k":5,"v":20.9},{"s":"A250","k":6,"v":20.6},
{"s":"A251","k":0,"v":14.7},{"s":"A251","k":1,"v":14.2},{"s":"A251","k":2,"v":15.0},{"s":"A251","k":3,"v":15.9},{"s":"A251","k":4,"v":15.2},{"s":"A251","k":5,"v":16.6},{"s":"A251","k":6,"v":17.1},
{"s":"A252","k":0,"v":15.8},{"s":"A252","k":1,"v":14.8},{"s":"A252","k":2,"v":16.6},{"s":"A252","k":3,"v":17.2},{"s":"A252","k":4,"v":16.1},{"s":"A252","k":5,"v":18.9},{"s":"A252","k":6,"v":18.8},
{"s":"A253","k":0,"v":13.8},{"s":"A253","k":1,"v":13.7},{"s":"A253","k":2,"v":13.9},{"s":"A253","k":3,"v":14.5},{"s":"A253","k":4,"v":14.6},{"s":"A253","k":5,"v":15.3},{"s":"A253","k":6,"v":15.4},
{"s":"A254","k":0,"v":14.8},{"s":"A254","k":1,"v":14.3},{"s":"A254","k":2,"v":15.6},{"s":"A254","k":3,"v":16.3},{"s":"A254","k":4,"v":15.5},{"s":"A254","k":5,"v":17.1},{"s":"A254","k":6,"v":17.5},
{"s":"A255","k":0,"v":16.2},{"s":"A255","k":1,"v":15.0},{"s":"A255","k":2,"v":16.8},{"s":"A255","k":3,"v":17.8},{"s":"A255","k":4,"v":16.1},{"s":"A255","k":5,"v":19.7},{"s":"A255","k":6,"v":19.5},
{"s":"A256","k":0,"v":14.0},{"s":"A256","k":1,"v":13.9},{"s":"A256","k":2,"v":14.2},{"s":"A256","k":3,"v":15.0},{"s":"A256","k":4,"v":14.8},{"s":"A256","k":5,"v":15.5},{"s":"A256","k":6,"v":16.0},
{"s":"A257","k":0,"v":15.1},{"s":"A257","k":1,"v":14.5},{"s":"A257","k":2,"v":15.8},{"s":"A257","k":3,"v":16.3},{"s":"A257","k":4,"v":15.7},{"s":"A257","k":5,"v":17.8},{"s":"A257","k":6,"v":17.7},
{"s":"A258","k":0,"v":16.7},{"s":"A258","k":1,"v":15.1},{"s":"A258","k":2,"v":17.1},{"s":"A258","k":3,"v":18.3},{"s":"A258","k":4,"v":16.4},{"s":"A258","k":5,"v":20.0},{"s":"A258","k":6,"v":19.7},
{"s":"A259","k":0,"v":14.1},{"s":"A259","k":1,"v":13.9},{"s":"A259","k":2,"v":14.8},{"s":"A259","k":3,"v":15.4},{"s":"A259","k":4,"v":15.1},{"s":"A259","k":5,"v":16.0},{"s":"A259","k":6,"v":16.5},
{"s":"A260","k":0,"v":15.5},{"s":"A260","k":1,"v":14.7},{"s":"A260","k":2,"v":16.1},{"s":"A260","k":3,"v":16.8},{"s":"A260","k":4,"v":15.7},{"s":"A260","k":5,"v":18.6},{"s":"A260","k":6,"v":18.5},
{"s":"A261","k":0,"v":16.9},{"s":"A261","k":1,"v":15.3},{"s":"A261","k":2,"v":17.4},{"s":"A261","k":3,"v":18.8},{"s":"A261","k":4,"v":16.6},{"s":"A261","k":5,"v":20.2},{"s":"A261","k":6,"v":20.5},
{"s":"A262","k":0,"v":14.4},{"s":"A262","k":1,"v":14.1},{"s":"A262","k":2,"v":15.1},{"s":"A262","k":3,"v":15.4},{"s":"A262","k":4,"v":15.2},{"s":"A262","k":5,"v":16.6},{"s":"A262","k":6,"v":16.6},
{"s":"A263","k":0,"v":16.0},{"s":"A263","k":1,"v":14.8},{"s":"A263","k":2,"v":16.3},{"s":"A263","k":3,"v":17.4},{"s":"A263","k":4,"v":15.9},{"s":"A263","k":5,"v":18.9},{"s":"A263","k":6,"v":18.6},
{"s":"A264","k":0,"v":17.0},{"s":"A264","k":1,"v":15.3},{"s":"A264","k":2,"v":17.8},{"s":"A264","k":3,"v":19.0},{"s":"A264","k":4,"v":16.8},{"s":"A264","k":5,"v":20.7},{"s":"A264","k":6,"v":20.8},
{"s":"A265","k":0,"v":14.8},{"s":"A265","k":1,"v":14.4},{"s":"A265","k":2,"v":15.3},{"s":"A265","k":3,"v":15.9},{"s":"A265","k":4,"v":15.2},{"s":"A265","k":5,"v":17.4},{"s":"A265","k":6,"v":17.4},
{"s":"A266","k":0,"v":16.2},{"s":"A266","k":1,"v":14.9},{"s":"A266","k":2,"v":16.6},{"s":"A266","k":3,"v":17.9},{"s":"A266","k":4,"v":16.2},{"s":"A266","k":5,"v":19.1},{"s":"A266","k":6,"v":19.4},
{"s":"A267","k":0,"v":13.7},{"s":"A267","k":1,"v":13.8},{"s":"A267","k":2,"v":14.3},{"s":"A267","k":3,"v":14.5},{"s":"A267","k":4,"v":14.8},{"s":"A267","k":5,"v":15.5},{"s":"A267","k":6,"v":15.6},
{"s":"A268","k":0,"v":15.3},{"s":"A268","k":1,"v":14.5},{"s":"A268","k":2,"v":15.5},{"s":"A268","k":3,"v":16.5},{"s":"A268","k":4,"v":15.5},{"s":"A268","k":5,"v":17.8},{"s":"A268","k":6,"v":17.5},
{"s":"A269","k":0,"v":16.3},{"s":"A269","k":1,"v":15.0},{"s":"A269","k":2,"v":17.3},{"s":"A269","k":3,"v":18.3},{"s":"A269","k":4,"v":16.5},{"s":"A269","k":5,"v":19.6},{"s":"A269","k":6,"v":19.8},
{"s":"A270","k":0,"v":14.1},{"s":"A270","k":1,"v":14.0},{"s":"A270","k":2,"v":14.5},{"s":"A270","k":3,"v":15.0},{"s":"A270","k":4,"v":14.8},{"s":"A270","k":5,"v":16.3},{"s":"A270","k":6,"v":16.3},
{"s":"A271","k":0,"v":15.5},{"s":"A271","k":1,"v":14.6},{"s":"A271","k":2,"v":15.8},{"s":"A271","k":3,"v":17.0},{"s":"A271","k":4,"v":15.7},{"s":"A271","k":5,"v":17.9},{"s":"A271","k":6,"v":18.3},
{"s":"A272","k":0,"v":16.6},{"s":"A272","k":1,"v":15.2},{"s":"A272","k":2,"v":17.5},{"s":"A272","k":3,"v":18.3},{"s":"A272","k":4,"v":16.6},{"s":"A272","k":5,"v":20.2},{"s":"A272","k":6,"v":20.0},
{"s":"A273","k":0,"v":14.6},{"s":"A273","k":1,"v":14.1},{"s":"A273","k":2,"v":14.7},{"s":"A273","k":3,"v":15.5},{"s":"A273","k":4,"v":15.0},{"s":"A273","k":5,"v":16.6},{"s":"A273","k":6,"v":16.5},
{"s":"A274","k":0,"v":15.6},{"s":"A274","k":1,"v":14.6},{"s":"A274","k":2,"v":16.5},{"s":"A274","k":3,"v":17.4},{"s":"A274","k":4,"v":16.1},{"s":"A274","k":5,"v":18.4},{"s":"A274","k":6,"v":18.8},
{"s":"A275","k":0,"v":17.0},{"s":"A275","k":1,"v":15.4},{"s":"A275","k":2,"v":17.7},{"s":"A275","k":3,"v":18.8},{"s":"A275","k":4,"v":16.6},{"s":"A275","k":5,"v":20.9},{"s":"A275","k":6,"v":20.8},
{"s":"A276","k":0,"v":14.8},{"s":"A276","k":1,"v":14.3},{"s":"A276","k":2,"v":15.1},{"s":"A276","k":3,"v":16.1},{"s":"A276","k":4,"v":15.3},{"s":"A276","k":5,"v":16.8},{"s":"A276","k":6,"v":17.2},
{"s":"A277","k":0,"v":15.9},{"s":"A277","k":1,"v":14.8},{"s":"A277","k":2,"v":16.7},{"s":"A277","k":3,"v":17.4},{"s":"A277","k":4,"v":16.2},{"s":"A277","k":5,"v":19.1},{"s":"A277","k":6,"v":18.9},
{"s":"A278","k":0,"v":13.9},{"s":"A278","k":1,"v":13.8},{"s":"A278","k":2,"v":13.9},{"s":"A278","k":3,"v":14.6},{"s":"A278","k":4,"v":14.6},{"s":"A278","k":5,"v":15.5},{"s":"A278","k":6,"v":15.4},
{"s":"A279","k":0,"v":14.9},{"s":"A279","k":1,"v":14.3},{"s":"A279","k":2,"v":15.7},{"s":"A279","k":3,"v":16.5},{"s":"A279","k":4,"v":15.6},{"s":"A279","k":5,"v":17.3},{"s":"A279","k":6,"v":17.7},
{"s":"A280","k":0,"v":16.3},{"s":"A280","k":1,"v":15.1},{"s":"A280","k":2,"v":17.0},{"s":"A280","k":3,"v":17.9},{"s":"A280","k":4,"v":16.2},{"s":"A280","k":5,"v":19.9},{"s":"A280","k":6,"v":19.7},
{"s":"A281","k":0,"v":14.1},{"s":"A281","k":1,"v":13.9},{"s":"A281","k":2,"v":14.3},{"s":"A281","k":3,"v":15.2},{"s":"A281","k":4,"v":14.9},{"s":"A281","k":5,"v":15.6},{"s":"A281","k":6,"v":16.2},
{"s":"A282","k":0,"v":15.2},{"s":"A282","k":1,"v":14.5},{"s":"A282","k":2,"v":16.0},{"s":"A282","k":3,"v":16.5},{"s":"A282","k":4,"v":15.7},{"s":"A282","k":5,"v":17.9},{"s":"A282","k":6,"v":17.9},
{"s":"A283","k":0,"v":16.8},{"s":"A283","k":1,"v":15.2},{"s":"A283","k":2,"v":17.2},{"s":"A283","k":3,"v":18.4},{"s":"A283","k":4,"v":16.4},{"s":"A283","k":5,"v":20.2},{"s":"A283","k":6,"v":19.8},
{"s":"A284","k":0,"v":14.2},{"s":"A284","k":1,"v":14.0},{"s":"A284","k":2,"v":15.0},{"s":"A284","k":3,"v":15.5},{"s":"A284","k":4,"v":15.2},{"s":"A284","k":5,"v":16.1},{"s":"A284","k":6,"v":16.6},
{"s":"A285","k":0,"v":15.6},{"s":"A285","k":1,"v":14.7},{"s":"A285","k":2,"v":16.2},{"s":"A285","k":3,"v":17.0},{"s":"A285","k":4,"v":15.7},{"s":"A285","k":5,"v":18.7},{"s":"A285","k":6,"v":18.6},
{"s":"A286","k":0,"v":17.0},{"s":"A286","k":1,"v":15.3},{"s":"A286","k":2,"v":17.5},{"s":"A286","k":3,"v":18.9},{"s":"A286","k":4,"v":16.7},{"s":"A286","k":5,"v":20.4},{"s":"A286","k":6,"v":20.6},
{"s":"A287","k":0,"v":14.5},{"s":"A287","k":1,"v":14.2},{"s":"A287","k":2,"v":15.2},{"s":"A287","k":3,"v":15.5},{"s":"A287","k":4,"v":15.3},{"s":"A287","k":5,"v":16.8},{"s":"A287","k":6,"v":16.8},
{"s":"A288","k":0,"v":16.1},{"s":"A288","k":1,"v":14.8},{"s":"A288","k":2,"v":16.4},{"s":"A288","k":3,"v":17.5},{"s":"A288","k":4,"v":16.0},{"s":"A288","k":5,"v":19.1},{"s":"A288","k":6,"v":18.8},
{"s":"A289","k":0,"v":13.6},{"s":"A289","k":1,"v":13.7},{"s":"A289","k":2,"v":14.2},{"s":"A289","k":3,"v":14.6},{"s":"A289","k":4,"v":14.7},{"s":"A289","k":5,"v":15.2},{"s":"A289","k":6,"v":15.6},
{"s":"A290","k":0,"v":14.9},{"s":"A290","k":1,"v":14.4},{"s":"A290","k":2,"v":15.4},{"s":"A290","k":3,"v":16.1},{"s":"A290","k":4,"v":15.3},{"s":"A290","k":5,"v":17.6},{"s":"A290","k":6,"v":17.5},
{"s":"A291","k":0,"v":16.3},{"s":"A291","k":1,"v":15.0},{"s":"A291","k":2,"v":16.7},{"s":"A291","k":3,"v":18.0},{"s":"A291","k":4,"v":16.2},{"s":"A291","k":5,"v":19.2},{"s":"A291","k":6,"v":19.5},
{"s":"A292","k":0,"v":13.8},{"s":"A292","k":1,"v":13.8},{"s":"A292","k":2,"v":14.4},{"s":"A292","k":3,"v":14.6},{"s":"A292","k":4,"v":14.9},{"s":"A292","k":5,"v":15.6},{"s":"A292","k":6,"v":15.7},
{"s":"A293","k":0,"v":15.4},{"s":"A293","k":1,"v":14.5},{"s":"A293","k":2,"v":15.6},{"s":"A293","k":3,"v":16.6},{"s":"A293","k":4,"v":15.5},{"s":"A293","k":5,"v":17.9},{"s":"A293","k":6,"v":17.7},
{"s":"A294","k":0,"v":16.4},{"s":"A294","k":1,"v":15.0},{"s":"A294","k":2,"v":17.4},{"s":"A294","k":3,"v":18.4},{"s":"A294","k":4,"v":16.6},{"s":"A294","k":5,"v":19.7},{"s":"A294","k":6,"v":20.0},
{"s":"A295","k":0,"v":14.2},{"s":"A295","k":1,"v":14.1},{"s":"A295","k":2,"v":14.6},{"s":"A295","k":3,"v":15.2},{"s":"A295","k":4,"v":14.9},{"s":"A295","k":5,"v":16.5},{"s":"A295","k":6,"v":16.5},
{"s":"A296","k":0,"v":15.6},{"s":"A296","k":1,"v":14.6},{"s":"A296","k":2,"v":16.0},{"s":"A296","k":3,"v":17.1},{"s":"A296","k":4,"v":15.8},{"s":"A296","k":5,"v":18.1},{"s":"A296","k":6,"v":18.5},
{"s":"A297","k":0,"v":16.7},{"s":"A297","k":1,"v":15.2},{"s":"A297","k":2,"v":17.6},{"s":"A297","k":3,"v":18.4},{"s":"A297","k":4,"v":16.7},{"s":"A297","k":5,"v":20.4},{"s":"A297","k":6,"v":20.1},
{"s":"A298","k":0,"v":14.7},{"s":"A298","k":1,"v":14.2},{"s":"A298","k":2,"v":14.8},{"s":"A298","k":3,"v":15.7},{"s":"A298","k":4,"v":15.1},{"s":"A298","k":5,"v":16.8},{"s":"A298","k":6,"v":16.6},
{"s":"A299","k":0,"v":15.7},{"s":"A299","k":1,"v":14.7},{"s":"A299","k":2,"v":16.6},{"s":"A299","k":3,"v":17.5},{"s":"A299","k":4,"v":16.1},{"s":"A299","k":5,"v":18.6},{"s":"A299","k":6,"v":18.9},
{"s":"A300","k":0,"v":17.1},{"s":"A300","k":1,"v":15.4},{"s":"A300","k":2,"v":17.8},{"s":"A300","k":3,"v":18.9},{"s":"A300","k":4,"v":16.7},{"s":"A300","k":5,"v":20.9},{"s":"A300","k":6,"v":20.8},
{"s":"A301","k":0,"v":14.9},{"s":"A301","k":1,"v":14.3},{"s":"A301","k":2,"v":15.2},{"s":"A301","k":3,"v":16.2},{"s":"A301","k":4,"v":15.4},{"s":"A301","k":5,"v":16.9},{"s":"A301","k":6,"v":17.4},
{"s":"A302","k":0,"v":16.0},{"s":"A302","k":1,"v":14.9},{"s":"A302","k":2,"v":16.8},{"s":"A302","k":3,"v":17.5},{"s":"A302","k":4,"v":16.2},{"s":"A302","k":5,"v":19.2},{"s":"A302","k":6,"v":19.1},
{"s":"A303","k":0,"v":14.0},{"s":"A303","k":1,"v":13.8},{"s":"A303","k":2,"v":14.1},{"s":"A303","k":3,"v":14.8},{"s":"A303","k":4,"v":14.7},{"s":"A303","k":5,"v":15.6},{"s":"A303","k":6,"v":15.6},
{"s":"A304","k":0,"v":15.0},{"s":"A304","k":1,"v":14.4},{"s":"A304","k":2,"v":15.8},{"s":"A304","k":3,"v":16.6},{"s":"A304","k":4,"v":15.7},{"s":"A304","k":5,"v":17.4},{"s":"A304","k":6,"v":17.9},
{"s":"A305","k":0,"v":16.4},{"s":"A305","k":1,"v":15.1},{"s":"A305","k":2,"v":17.1},{"s":"A305","k":3,"v":18.0},{"s":"A305","k":4,"v":16.2},{"s":"A305","k":5,"v":20.0},{"s":"A305","k":6,"v":19.8},
{"s":"A306","k":0,"v":14.2},{"s":"A306","k":1,"v":14.0},{"s":"A306","k":2,"v":14.4},{"s":"A306","k":3,"v":15.3},{"s":"A306","k":4,"v":14.9},{"s":"A306","k":5,"v":15.8},{"s":"A306","k":6,"v":16.3},
{"s":"A307","k":0,"v":15.3},{"s":"A307","k":1,"v":14.5},{"s":"A307","k":2,"v":16.1},{"s":"A307","k":3,"v":16.6},{"s":"A307","k":4,"v":15.8},{"s":"A307","k":5,"v":18.1},{"s":"A307","k":6,"v":18.0},
{"s":"A308","k":0,"v":16.9},{"s":"A308","k":1,"v":15.2},{"s":"A308","k":2,"v":17.3},{"s":"A308","k":3,"v":18.5},{"s":"A308","k":4,"v":16.5},{"s":"A308","k":5,"v":20.4},{"s":"A308","k":6,"v":20.0},
{"s":"A309","k":0,"v":14.3},{"s":"A309","k":1,"v":14.0},{"s":"A309","k":2,"v":15.1},{"s":"A309","k":3,"v":15.7},{"s":"A309","k":4,"v":15.2},{"s":"A309","k":5,"v":16.3},{"s":"A309","k":6,"v":16.8},
{"s":"A310","k":0,"v":15.7},{"s":"A310","k":1,"v":14.8},{"s":"A310","k":2,"v":16.3},{"s":"A310","k":3,"v":17.1},{"s":"A310","k":4,"v":15.8},{"s":"A310","k":5,"v":18.9},{"s":"A310","k":6,"v":18.8},
{"s":"A311","k":0,"v":17.1},{"s":"A311","k":1,"v":15.4},{"s":"A311","k":2,"v":17.6},{"s":"A311","k":3,"v":19.0},{"s":"A311","k":4,"v":16.7},{"s":"A311","k":5,"v":20.5},{"s":"A311","k":6,"v":20.8},
{"s":"A312","k":0,"v":14.6},{"s":"A312","k":1,"v":14.2},{"s":"A312","k":2,"v":15.3},{"s":"A312","k":3,"v":15.7},{"s":"A312","k":4,"v":15.4},{"s":"A312","k":5,"v":16.9},{"s":"A312","k":6,"v":16.9},
{"s":"A313","k":0,"v":16.2},{"s":"A313","k":1,"v":14.9},{"s":"A313","k":2,"v":16.5},{"s":"A313","k":3,"v":17.6},{"s":"A313","k":4,"v":16.1},{"s":"A313","k":5,"v":19.2},{"s":"A313","k":6,"v":18.9},
{"s":"A314","k":0,"v":13.6},{"s":"A314","k":1,"v":13.7},{"s":"A314","k":2,"v":14.3},{"s":"A314","k":3,"v":14.8},{"s":"A314","k":4,"v":14.8},{"s":"A314","k":5,"v":15.2},{"s":"A314","k":6,"v":15.7},
{"s":"A315","k":0,"v":15.0},{"s":"A315","k":1,"v":14.5},{"s":"A315","k":2,"v":15.5},{"s":"A315","k":3,"v":16.2},{"s":"A315","k":4,"v":15.4},{"s":"A315","k":5,"v":17.8},{"s":"A315","k":6,"v":17.7},
{"s":"A316","k":0,"v":16.4},{"s":"A316","k":1,"v":15.0},{"s":"A316","k":2,"v":16.8},{"s":"A316","k":3,"v":18.1},{"s":"A316","k":4,"v":16.3},{"s":"A316","k":5,"v":19.4},{"s":"A316","k":6,"v":19.7},
{"s":"A317","k":0,"v":13.9},{"s":"A317","k":1,"v":13.9},{"s":"A317","k":2,"v":14.5},{"s":"A317","k":3,"v":14.8},{"s":"A317","k":4,"v":14.9},{"s":"A317","k":5,"v":15.8},{"s":"A317","k":6,"v":15.9},
{"s":"A318","k":0,"v":15.5},{"s":"A318","k":1,"v":14.5},{"s":"A318","k":2,"v":15.7},{"s":"A318","k":3,"v":16.7},{"s":"A318","k":4,"v":15.6},{"s":"A318","k":5,"v":18.1},{"s":"A318","k":6,"v":17.9},
{"s":"A319","k":0,"v":16.5},{"s":"A319","k":1,"v":15.1},{"s":"A319","k":2,"v":17.5},{"s":"A319","k":3,"v":18.5},{"s":"A319","k":4,"v":16.6},{"s":"A319","k":5,"v":19.9},{"s":"A319","k":6,"v":20.1},
{"s":"A320","k":0,"v":14.3},{"s":"A320","k":1,"v":14.1},{"s":"A320","k":2,"v":14.7},{"s":"A320","k":3,"v":15.3},{"s":"A320","k":4,"v":14.9},{"s":"A320","k":5,"v":16.6},{"s":"A320","k":6,"v":16.6},
{"s":"A321","k":0,"v":15.7},{"s":"A321","k":1,"v":14.7},{"s":"A321","k":2,"v":16.1},{"s":"A321","k":3,"v":17.2},{"s":"A321","k":4,"v":15.9},{"s":"A321","k":5,"v":18.2},{"s":"A321","k":6,"v":18.6},
{"s":"A322","k":0,"v":16.8},{"s":"A322","k":1,"v":15.3},{"s":"A322","k":2,"v":17.7},{"s":"A322","k":3,"v":18.5},{"s":"A322","k":4,"v":16.7},{"s":"A322","k":5,"v":20.5},{"s":"A322","k":6,"v":20.3},
{"s":"A323","k":0,"v":14.8},{"s":"A323","k":1,"v":14.2},{"s":"A323","k":2,"v":15.0},{"s":"A323","k":3,"v":15.8},{"s":"A323","k":4,"v":15.2},{"s":"A323","k":5,"v":16.9},{"s":"A323","k":6,"v":16.8},
{"s":"A324","k":0,"v":15.8},{"s":"A324","k":1,"v":14.7},{"s":"A324","k":2,"v":16.7},{"s":"A324","k":3,"v":17.6},{"s":"A324","k":4,"v":16.2},{"s":"A324","k":5,"v":18.7},{"s":"A324","k":6,"v":19.1},
{"s":"A325","k":0,"v":13.6},{"s":"A325","k":1,"v":13.8},{"s":"A325","k":2,"v":13.9},{"s":"A325","k":3,"v":14.5},{"s":"A325","k":4,"v":14.6},{"s":"A325","k":5,"v":15.5},{"s":"A325","k":6,"v":15.6},
{"s":"A326","k":0,"v":15.0},{"s":"A326","k":1,"v":14.4},{"s":"A326","k":2,"v":15.3},{"s":"A326","k":3,"v":16.3},{"s":"A326","k":4,"v":15.4},{"s":"A326","k":5,"v":17.1},{"s":"A326","k":6,"v":17.5},
{"s":"A327","k":0,"v":16.1},{"s":"A327","k":1,"v":14.9},{"s":"A327","k":2,"v":17.0},{"s":"A327","k":3,"v":17.6},{"s":"A327","k":4,"v":16.3},{"s":"A327","k":5,"v":19.4},{"s":"A327","k":6,"v":19.2},
{"s":"A328","k":0,"v":14.1},{"s":"A328","k":1,"v":13.9},{"s":"A328","k":2,"v":14.2},{"s":"A328","k":3,"v":14.9},{"s":"A328","k":4,"v":14.7},{"s":"A328","k":5,"v":15.8},{"s":"A328","k":6,"v":15.7},
{"s":"A329","k":0,"v":15.1},{"s":"A329","k":1,"v":14.4},{"s":"A329","k":2,"v":16.0},{"s":"A329","k":3,"v":16.7},{"s":"A329","k":4,"v":15.7},{"s":"A329","k":5,"v":17.6},{"s":"A329","k":6,"v":18.0},
{"s":"A330","k":0,"v":16.5},{"s":"A330","k":1,"v":15.2},{"s":"A330","k":2,"v":17.2},{"s":"A330","k":3,"v":18.1},{"s":"A330","k":4,"v":16.3},{"s":"A330","k":5,"v":20.2},{"s":"A330","k":6,"v":20.0},
{"s":"A331","k":0,"v":14.3},{"s":"A331","k":1,"v":14.0},{"s":"A331","k":2,"v":14.5},{"s":"A331","k":3,"v":15.4},{"s":"A331","k":4,"v":15.0},{"s":"A331","k":5,"v":16.0},{"s":"A331","k":6,"v":16.5},
{"s":"A332","k":0,"v":15.4},{"s":"A332","k":1,"v":14.6},{"s":"A332","k":2,"v":16.2},{"s":"A332","k":3,"v":16.7},{"s":"A332","k":4,"v":15.9},{"s":"A332","k":5,"v":18.2},{"s":"A332","k":6,"v":18.2},
{"s":"A333","k":0,"v":17.0},{"s":"A333","k":1,"v":15.3},{"s":"A333","k":2,"v":17.4},{"s":"A333","k":3,"v":18.7},{"s":"A333","k":4,"v":16.6},{"s":"A333","k":5,"v":20.5},{"s":"A333","k":6,"v":20.1},
{"s":"A334","k":0,"v":14.4},{"s":"A334","k":1,"v":14.1},{"s":"A334","k":2,"v":15.2},{"s":"A334","k":3,"v":15.8},{"s":"A334","k":4,"v":15.3},{"s":"A334","k":5,"v":16.5},{"s":"A334","k":6,"v":16.9},
{"s":"A335","k":0,"v":15.8},{"s":"A335","k":1,"v":14.8},{"s":"A335","k":2,"v":16.4},{"s":"A335","k":3,"v":17.2},{"s":"A335","k":4,"v":15.9},{"s":"A335","k":5,"v":19.1},{"s":"A335","k":6,"v":18.9},
{"s":"A336","k":0,"v":17.1},{"s":"A336","k":1,"v":15.4},{"s":"A336","k":2,"v":17.7},{"s":"A336","k":3,"v":19.0},{"s":"A336","k":4,"v":16.8},{"s":"A336","k":5,"v":20.7},{"s":"A336","k":6,"v":20.8},
{"s":"A337","k":0,"v":14.7},{"s":"A337","k":1,"v":14.3},{"s":"A337","k":2,"v":15.4},{"s":"A337","k":3,"v":15.8},{"s":"A337","k":4,"v":15.4},{"s":"A337","k":5,"v":17.1},{"s":"A337","k":6,"v":17.1},
{"s":"A338","k":0,"v":16.3},{"s":"A338","k":1,"v":14.9},{"s":"A338","k":2,"v":16.6},{"s":"A338","k":3,"v":17.8},{"s":"A338","k":4,"v":16.1},{"s":"A338","k":5,"v":19.4},{"s":"A338","k":6,"v":19.1},
{"s":"A339","k":0,"v":13.7},{"s":"A339","k":1,"v":13.7},{"s":"A339","k":2,"v":14.4},{"s":"A339","k":3,"v":14.9},{"s":"A339","k":4,"v":14.9},{"s":"A339","k":5,"v":15.3},{"s":"A339","k":6,"v":15.9},
{"s":"A340","k":0,"v":15.1},{"s":"A340","k":1,"v":14.5},{"s":"A340","k":2,"v":15.6},{"s":"A340","k":3,"v":16.3},{"s":"A340","k":4,"v":15.4},{"s":"A340","k":5,"v":17.9},{"s":"A340","k":6,"v":17.9},
{"s":"A341","k":0,"v":16.5},{"s":"A341","k":1,"v":15.1},{"s":"A341","k":2,"v":17.0},{"s":"A341","k":3,"v":18.3},{"s":"A341","k":4,"v":16.4},{"s":"A341","k":5,"v":19.6},{"s":"A341","k":6,"v":19.8},
{"s":"A342","k":0,"v":14.0},{"s":"A342","k":1,"v":13.9},{"s":"A342","k":2,"v":14.6},{"s":"A342","k":3,"v":14.9},{"s":"A342","k":4,"v":15.0},{"s":"A342","k":5,"v":16.0},{"s":"A342","k":6,"v":16.0},
{"s":"A343","k":0,"v":15.6},{"s":"A343","k":1,"v":14.6},{"s":"A343","k":2,"v":15.8},{"s":"A343","k":3,"v":16.8},{"s":"A343","k":4,"v":15.7},{"s":"A343","k":5,"v":18.2},{"s":"A343","k":6,"v":18.0},
{"s":"A344","k":0,"v":16.6},{"s":"A344","k":1,"v":15.1},{"s":"A344","k":2,"v":17.6},{"s":"A344","k":3,"v":18.7},{"s":"A344","k":4,"v":16.7},{"s":"A344","k":5,"v":20.0},{"s":"A344","k":6,"v":20.3},
{"s":"A345","k":0,"v":14.4},{"s":"A345","k":1,"v":14.2},{"s":"A345","k":2,"v":14.8},{"s":"A345","k":3,"v":15.4},{"s":"A345","k":4,"v":15.0},{"s":"A345","k":5,"v":16.8},{"s":"A345","k":6,"v":16.8},
{"s":"A346","k":0,"v":15.8},{"s":"A346","k":1,"v":14.7},{"s":"A346","k":2,"v":16.2},{"s":"A346","k":3,"v":17.4},{"s":"A346","k":4,"v":15.9},{"s":"A346","k":5,"v":18.4},{"s":"A346","k":6,"v":18.8},
{"s":"A347","k":0,"v":16.9},{"s":"A347","k":1,"v":15.3},{"s":"A347","k":2,"v":17.8},{"s":"A347","k":3,"v":18.7},{"s":"A347","k":4,"v":16.8},{"s":"A347","k":5,"v":20.7},{"s":"A347","k":6,"v":20.5},
{"s":"A348","k":0,"v":14.9},{"s":"A348","k":1,"v":14.3},{"s":"A348","k":2,"v":15.1},{"s":"A348","k":3,"v":15.9},{"s":"A348","k":4,"v":15.2},{"s":"A348","k":5,"v":17.1},{"s":"A348","k":6,"v":16.9},
{"s":"A349","k":0,"v":15.9},{"s":"A349","k":1,"v":14.8},{"s":"A349","k":2,"v":16.8},{"s":"A349","k":3,"v":17.8},{"s":"A349","k":4,"v":16.2},{"s":"A349","k":5,"v":18.9},{"s":"A349","k":6,"v":19.2},
{"s":"A350","k":0,"v":13.7},{"s":"A350","k":1,"v":13.8},{"s":"A350","k":2,"v":14.1},{"s":"A350","k":3,"v":14.5},{"s":"A350","k":4,"v":14.6},{"s":"A350","k":5,"v":15.6},{"s":"A350","k":6,"v":15.7},
{"s":"A351","k":0,"v":15.1},{"s":"A351","k":1,"v":14.4},{"s":"A351","k":2,"v":15.4},{"s":"A351","k":3,"v":16.5},{"s":"A351","k":4,"v":15.5},{"s":"A351","k":5,"v":17.3},{"s":"A351","k":6,"v":17.7},
{"s":"A352","k":0,"v":16.2},{"s":"A352","k":1,"v":15.0},{"s":"A352","k":2,"v":17.1},{"s":"A352","k":3,"v":17.8},{"s":"A352","k":4,"v":16.4},{"s":"A352","k":5,"v":19.6},{"s":"A352","k":6,"v":19.4},
{"s":"A353","k":0,"v":14.2},{"s":"A353","k":1,"v":13.9},{"s":"A353","k":2,"v":14.3},{"s":"A353","k":3,"v":15.0},{"s":"A353","k":4,"v":14.8},{"s":"A353","k":5,"v":16.0},{"s":"A353","k":6,"v":15.9},
{"s":"A354","k":0,"v":15.2},{"s":"A354","k":1,"v":14.5},{"s":"A354","k":2,"v":16.1},{"s":"A354","k":3,"v":16.8},{"s":"A354","k":4,"v":15.8},{"s":"A354","k":5,"v":17.8},{"s":"A354","k":6,"v":18.2},
{"s":"A355","k":0,"v":16.6},{"s":"A355","k":1,"v":15.2},{"s":"A355","k":2,"v":17.3},{"s":"A355","k":3,"v":18.3},{"s":"A355","k":4,"v":16.4},{"s":"A355","k":5,"v":20.4},{"s":"A355","k":6,"v":20.1},
{"s":"A356","k":0,"v":14.4},{"s":"A356","k":1,"v":14.1},{"s":"A356","k":2,"v":14.6},{"s":"A356","k":3,"v":15.5},{"s":"A356","k":4,"v":15.0},{"s":"A356","k":5,"v":16.1},{"s":"A356","k":6,"v":16.6},
{"s":"A357","k":0,"v":15.5},{"s":"A357","k":1,"v":14.6},{"s":"A357","k":2,"v":16.3},{"s":"A357","k":3,"v":16.8},{"s":"A357","k":4,"v":15.9},{"s":"A357","k":5,"v":18.4},{"s":"A357","k":6,"v":18.3},
{"s":"A358","k":0,"v":17.1},{"s":"A358","k":1,"v":15.3},{"s":"A358","k":2,"v":17.5},{"s":"A358","k":3,"v":18.8},{"s":"A358","k":4,"v":16.6},{"s":"A358","k":5,"v":20.7},{"s":"A358","k":6,"v":20.3},
{"s":"A359","k":0,"v":14.5},{"s":"A359","k":1,"v":14.1},{"s":"A359","k":2,"v":15.3},{"s":"A359","k":3,"v":15.9},{"s":"A359","k":4,"v":15.4},{"s":"A359","k":5,"v":16.6},{"s":"A359","k":6,"v":17.1},
{"s":"A360","k":0,"v":15.9},{"s":"A360","k":1,"v":14.9},{"s":"A360","k":2,"v":16.5},{"s":"A360","k":3,"v":17.4},{"s":"A360","k":4,"v":15.9},{"s":"A360","k":5,"v":19.2},{"s":"A360","k":6,"v":19.1},
{"s":"A361","k":0,"v":13.6},{"s":"A361","k":1,"v":13.7},{"s":"A361","k":2,"v":14.1},{"s":"A361","k":3,"v":14.5},{"s":"A361","k":4,"v":14.7},{"s":"A361","k":5,"v":15.2},{"s":"A361","k":6,"v":15.7},
{"s":"A362","k":0,"v":14.9},{"s":"A362","k":1,"v":14.3},{"s":"A362","k":2,"v":15.5},{"s":"A362","k":3,"v":16.1},{"s":"A362","k":4,"v":15.5},{"s":"A362","k":5,"v":17.3},{"s":"A362","k":6,"v":17.7},
{"s":"A363","k":0,"v":16.2},{"s":"A363","k":1,"v":14.9},{"s":"A363","k":2,"v":17.0},{"s":"A363","k":3,"v":17.8},{"s":"A363","k":4,"v":16.3},{"s":"A363","k":5,"v":19.4},{"s":"A363","k":6,"v":19.7},
{"s":"A364","k":0,"v":13.9},{"s":"A364","k":1,"v":13.8},{"s":"A364","k":2,"v":14.4},{"s":"A364","k":3,"v":14.8},{"s":"A364","k":4,"v":14.9},{"s":"A364","k":5,"v":15.6},{"s":"A364","k":6,"v":16.2},
{"s":"A365","k":0,"v":15.2},{"s":"A365","k":1,"v":14.4},{"s":"A365","k":2,"v":15.8},{"s":"A365","k":3,"v":16.5},{"s":"A365","k":4,"v":15.7},{"s":"A365","k":5,"v":17.8},{"s":"A365","k":6,"v":18.2},
{"s":"A366","k":0,"v":16.5},{"s":"A366","k":1,"v":15.0},{"s":"A366","k":2,"v":17.3},{"s":"A366","k":3,"v":18.1},{"s":"A366","k":4,"v":16.5},{"s":"A366","k":5,"v":19.9},{"s":"A366","k":6,"v":20.1},
{"s":"A367","k":0,"v":14.2},{"s":"A367","k":1,"v":13.9},{"s":"A367","k":2,"v":14.7},{"s":"A367","k":3,"v":15.2},{"s":"A367","k":4,"v":15.0},{"s":"A367","k":5,"v":16.1},{"s":"A367","k":6,"v":16.6},
{"s":"A368","k":0,"v":15.5},{"s":"A368","k":1,"v":14.5},{"s":"A368","k":2,"v":16.2},{"s":"A368","k":3,"v":16.8},{"s":"A368","k":4,"v":15.9},{"s":"A368","k":5,"v":18.2},{"s":"A368","k":6,"v":18.6},
{"s":"A369","k":0,"v":16.8},{"s":"A369","k":1,"v":15.2},{"s":"A369","k":2,"v":17.6},{"s":"A369","k":3,"v":18.5},{"s":"A369","k":4,"v":16.7},{"s":"A369","k":5,"v":20.4},{"s":"A369","k":6,"v":20.6},
{"s":"A370","k":0,"v":14.5},{"s":"A370","k":1,"v":14.1},{"s":"A370","k":2,"v":15.1},{"s":"A370","k":3,"v":15.5},{"s":"A370","k":4,"v":15.2},{"s":"A370","k":5,"v":16.6},{"s":"A370","k":6,"v":17.1},
{"s":"A371","k":0,"v":15.8},{"s":"A371","k":1,"v":14.7},{"s":"A371","k":2,"v":16.5},{"s":"A371","k":3,"v":17.2},{"s":"A371","k":4,"v":16.1},{"s":"A371","k":5,"v":18.7},{"s":"A371","k":6,"v":19.1},
{"s":"A372","k":0,"v":17.1},{"s":"A372","k":1,"v":15.3},{"s":"A372","k":2,"v":17.8},{"s":"A372","k":3,"v":18.9},{"s":"A372","k":4,"v":16.8},{"s":"A372","k":5,"v":20.9},{"s":"A372","k":6,"v":20.8},
{"s":"A373","k":0,"v":14.8},{"s":"A373","k":1,"v":14.2},{"s":"A373","k":2,"v":15.4},{"s":"A373","k":3,"v":15.9},{"s":"A373","k":4,"v":15.4},{"s":"A373","k":5,"v":17.1},{"s":"A373","k":6,"v":17.5},
{"s":"A374","k":0,"v":16.1},{"s":"A374","k":1,"v":14.8},{"s":"A374","k":2,"v":16.8},{"s":"A374","k":3,"v":17.6},{"s":"A374","k":4,"v":16.2},{"s":"A374","k":5,"v":19.2},{"s":"A374","k":6,"v":19.5},
{"s":"A375","k":0,"v":13.8},{"s":"A375","k":1,"v":13.7},{"s":"A375","k":2,"v":14.3},{"s":"A375","k":3,"v":14.6},{"s":"A375","k":4,"v":14.8},{"s":"A375","k":5,"v":15.5},{"s":"A375","k":6,"v":16.0},
{"s":"A376","k":0,"v":15.1},{"s":"A376","k":1,"v":14.4},{"s":"A376","k":2,"v":15.7},{"s":"A376","k":3,"v":16.3},{"s":"A376","k":4,"v":15.6},{"s":"A376","k":5,"v":17.6},{"s":"A376","k":6,"v":18.0},
{"s":"A377","k":0,"v":16.4},{"s":"A377","k":1,"v":15.0},{"s":"A377","k":2,"v":17.2},{"s":"A377","k":3,"v":18.0},{"s":"A377","k":4,"v":16.4},{"s":"A377","k":5,"v":19.7},{"s":"A377","k":6,"v":20.0},
{"s":"A378","k":0,"v":14.1},{"s":"A378","k":1,"v":13.9},{"s":"A378","k":2,"v":14.6},{"s":"A378","k":3,"v":15.0},{"s":"A378","k":4,"v":15.0},{"s":"A378","k":5,"v":16.0},{"s":"A378","k":6,"v":16.5},
{"s":"A379","k":0,"v":15.4},{"s":"A379","k":1,"v":14.5},{"s":"A379","k":2,"v":16.1},{"s":"A379","k":3,"v":16.7},{"s":"A379","k":4,"v":15.8},{"s":"A379","k":5,"v":18.1},{"s":"A379","k":6,"v":18.5}
]},
"transform":[{"lookup":"k","from":{"data":{"name":"times"},"key":"k","fields":["t"]}}],
"mark":{"type":"line","strokeWidth":3,"clip":true},
"encoding":{
"x":{"field":"t","type":"temporal","scale":{"type":"utc","domain":[1742489520000,1742669760000]},"axis":{"values":[1742493600000,1742504400000,1742515200000,1742526000000,1742536800000,1742547600000,1742558400000,1742569200000,1742580000000,1742590800000,1742601600000,1742612400000,1742623200000,1742634000000,1742644800000,1742655600000,1742666400000],"format":"%Y-%m-%d %H:%M","labelAngle":270,"labelFont":"Liberation Mono","labelFontSize":14.5,"labelColor":"#333333","grid":false,"domainColor":"#222222","domainWidth":2,"tickColor":"#999999","tickSize":4,"title":null,"labelPadding":2,"labelOverlap":false,"labelFlush":false,"labelBound":false}},
"y":{"field":"v","type":"quantitative","scale":{"domain":[13.065,22.5],"nice":false,"zero":false},"axis":{"values":[14,15,16,17,18,19,20,21,22],"grid":true,"gridDash":[2,2],"gridColor":"#888888","gridWidth":1,"labelFont":"DejaVu Serif","labelFontSize":14,"labelColor":"#333333","domainColor":"#222222","domainWidth":2,"tickSize":3,"tickColor":"#888888","title":null,"labelPadding":3}},
"color":{"field":"s","type":"nominal","scale":{"range":["#e65a5a","#5a5ae6","#5ae65a","#f5f56e","#e65ae6","#5ae6e6","#f0b4b4","#808080","#aa1414","#1414a0","#14b414","#b4b41e","#aa14aa","#1eb4b4","#3c3c3c","#e64b4b","#4b4be6","#4be64b","#f5f550","#e64be6","#50f0f0","#bebebe","#700000","#000070","#007000","#808000","#700070","#007070","#f08080","#8080f0","#80f080","#fafa96","#f080f0","#80fafa"]},"legend":{"orient":"none","direction":"horizontal","legendX":-34,"legendY":473,"columns":17,"title":null,"symbolType":"stroke","symbolStrokeWidth":3,"symbolSize":225,"labelFont":"DejaVu Serif","labelFontSize":17,"labelColor":"#333333","labelOffset":2,"columnPadding":1,"rowPadding":14,"padding":5,"strokeColor":"#000000","symbolLimit":400,"labelLimit":200,"gridAlign":"each"}}
},
"config":{"view":{"stroke":null}}
}
